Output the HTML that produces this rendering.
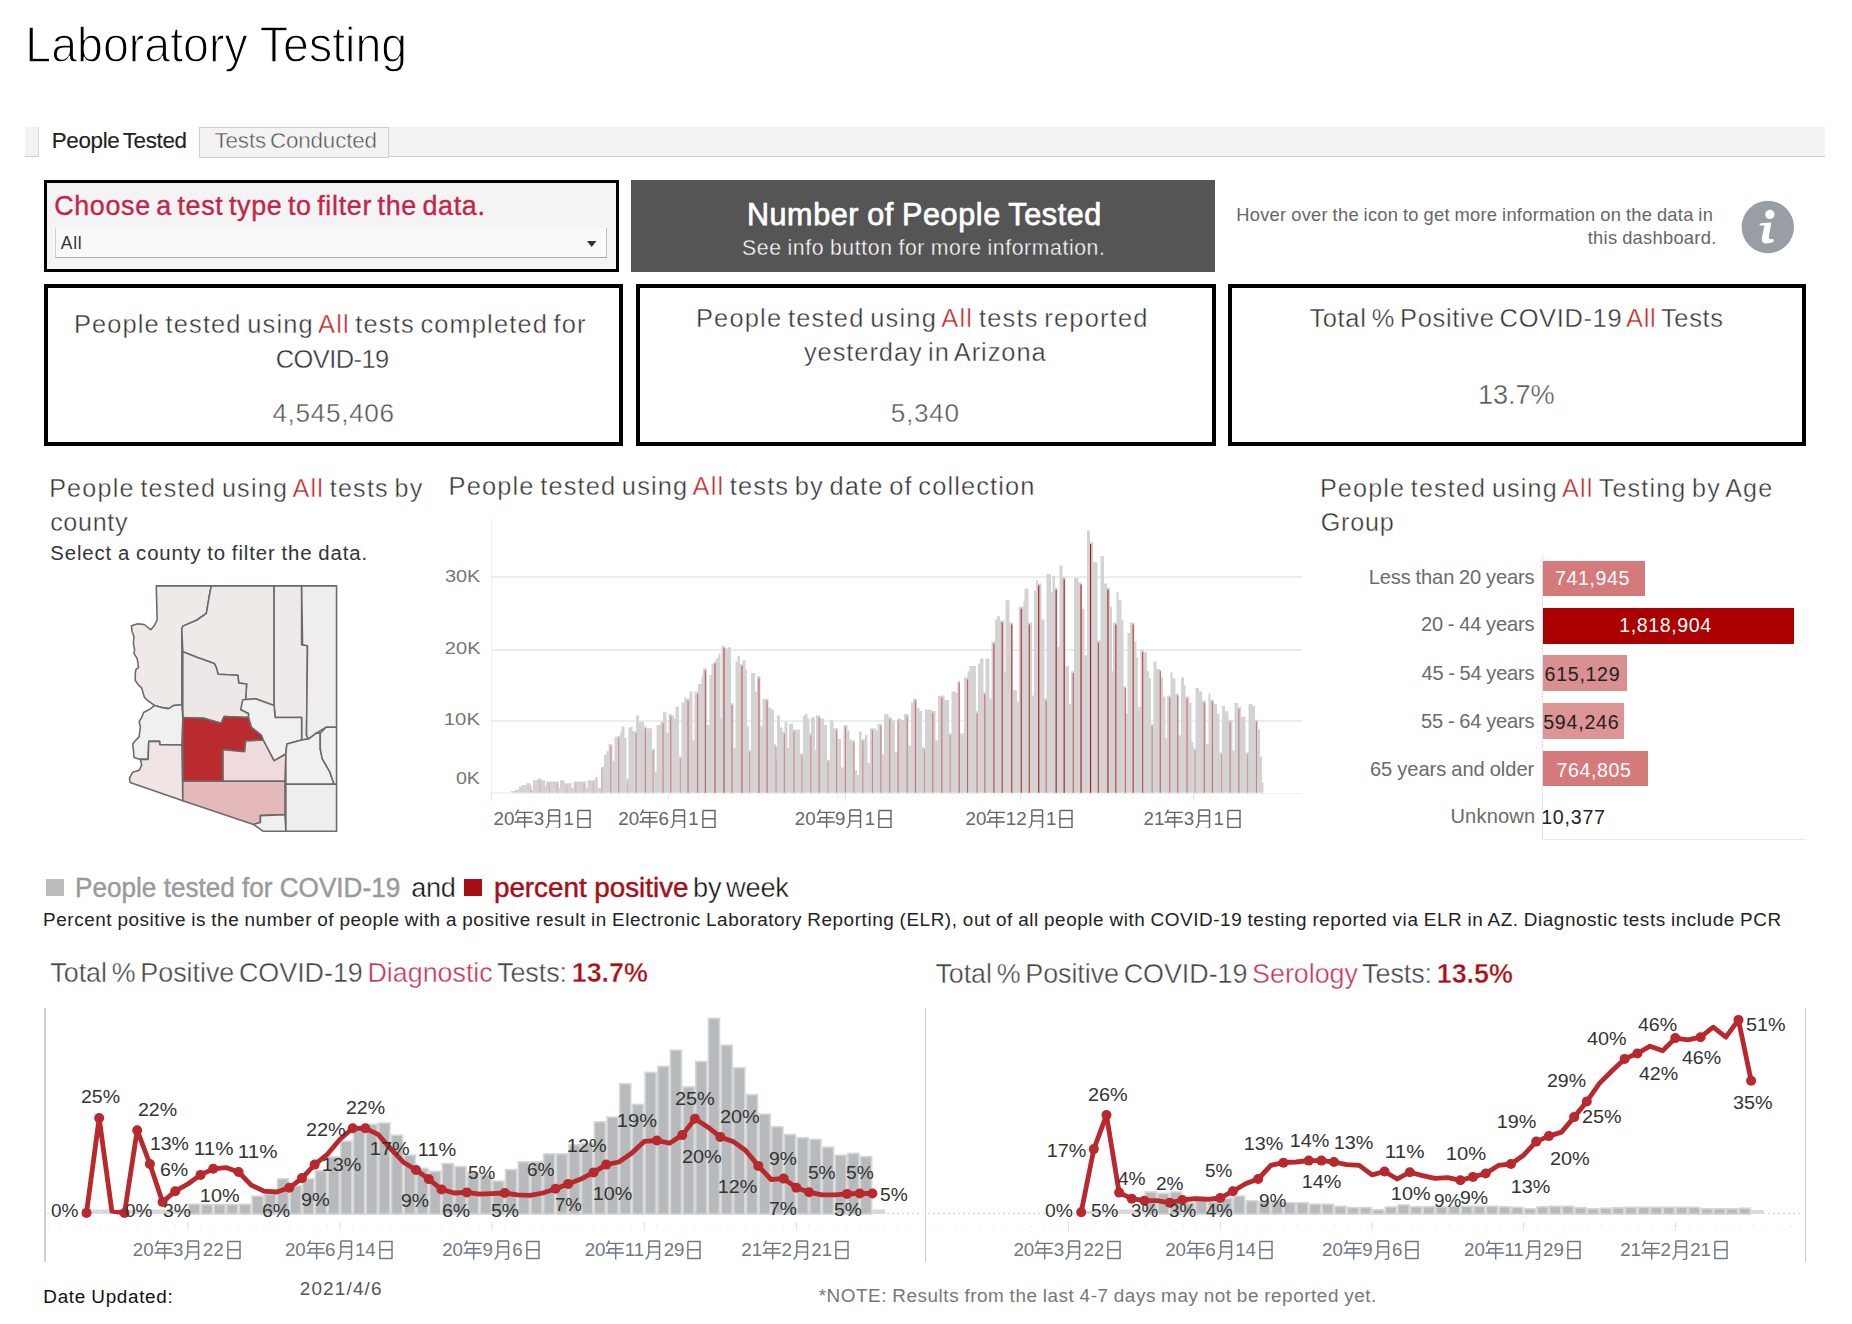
<!DOCTYPE html>
<html><head><meta charset="utf-8"><style>
html,body{margin:0;padding:0;background:#fff;}
body{width:1852px;height:1324px;position:relative;overflow:hidden;font-family:"Liberation Sans",sans-serif;}
.t{position:absolute;white-space:nowrap;line-height:1;}
.r{position:absolute;}
</style></head><body>
<div class="t" style="left:25.43px;top:20.13px;font-size:50.87px;color:#000;transform-origin:4.17px 0;transform:scaleX(0.9145);-webkit-text-stroke:1.3px #fff">Laboratory Testing</div>
<div class="r" style="left:25.00px;top:127.00px;width:1800.00px;height:29.00px;background:#f3f3f3;border-bottom:1px solid #cfcfcf"></div>
<div class="r" style="left:38.00px;top:127.00px;width:161.00px;height:30.00px;background:#fff;border-left:1px solid #d8d8d8"></div>
<div class="r" style="left:199.00px;top:127.00px;width:190.00px;height:29.00px;background:#f3f3f3;border:1px solid #cfcfcf;box-sizing:border-box;height:31px"></div>
<div class="t" style="left:51.76px;top:130.05px;font-size:22.38px;color:#222;letter-spacing:-0.326px;word-spacing:-2.24px;-webkit-text-stroke:0.15px #222">People Tested</div>
<div class="t" style="left:214.50px;top:130.05px;font-size:22.38px;color:#555;letter-spacing:-0.137px;word-spacing:-2.24px;-webkit-text-stroke:0.40px #fff">Tests Conducted</div>
<div class="r" style="left:44.00px;top:180.00px;width:575.00px;height:92.00px;border:3px solid #000;box-sizing:border-box;background:#f4f4f4"></div>
<div class="t" style="left:54.13px;top:193.23px;font-size:26.89px;color:#c1264a;letter-spacing:0.686px;word-spacing:-2.69px;-webkit-text-stroke:0.35px #c1264a">Choose a test type to filter the data.</div>
<div class="r" style="left:55.00px;top:228.00px;width:552.00px;height:30.00px;background:#f9f9f9;border-left:1px solid #d0d0d0;border-right:1px solid #bdbdbd;border-bottom:1px solid #a8a8a8;box-sizing:border-box"></div>
<div class="t" style="left:60.77px;top:234.93px;font-size:17.44px;color:#333;letter-spacing:0.754px">All</div>
<svg class="r" style="left:587px;top:241px" width="10" height="7"><path d="M0,0 H9.4 L4.7,6 Z" fill="#333"/></svg>
<div class="r" style="left:631.00px;top:180.00px;width:584.00px;height:92.00px;background:#555"></div>
<div class="t" style="left:746.90px;top:199.16px;font-size:30.52px;color:#fff;letter-spacing:0.608px;word-spacing:-0.92px;-webkit-text-stroke:0.75px #fff">Number of People Tested</div>
<div class="t" style="left:742.04px;top:236.63px;font-size:21.22px;color:#fff;letter-spacing:0.602px;word-spacing:-0.64px;-webkit-text-stroke:0.35px #555">See info button for more information.</div>
<div class="t" style="left:1236.30px;top:205.89px;font-size:18.31px;color:#666;letter-spacing:0.259px;word-spacing:-0.55px">Hover over the icon to get more information on the data in</div>
<div class="t" style="left:1587.72px;top:229.49px;font-size:18.31px;color:#666;letter-spacing:0.282px;word-spacing:-0.55px">this dashboard.</div>
<svg class="r" style="left:1741px;top:200px" width="53" height="54"><circle cx="26.8" cy="27" r="26.2" fill="#999ea5"/><circle cx="28.85" cy="14.4" r="4.6" fill="#fff"/><path d="M18.55,23.96 Q20,23.2 22.96,22.98 L30.33,22.49 L27.87,36.24 Q27.6,39.3 29.5,39.18 L32.29,38.9 L32.78,41.64 Q29,43.4 25.91,43.6 Q22,43.6 21.2,41.5 Q20.5,39.5 20.9,37.6 L23.45,25.44 L18.79,25.44 Z" fill="#fff"/></svg>
<div class="r" style="left:44.00px;top:284.00px;width:579.00px;height:162.00px;border:4px solid #000;box-sizing:border-box"></div>
<div class="r" style="left:636.00px;top:284.00px;width:580.00px;height:162.00px;border:4px solid #000;box-sizing:border-box"></div>
<div class="r" style="left:1228.00px;top:284.00px;width:578.00px;height:162.00px;border:4px solid #000;box-sizing:border-box"></div>
<div class="t" style="left:73.91px;top:311.96px;font-size:25.44px;color:#333;letter-spacing:1.131px;word-spacing:-2.54px;-webkit-text-stroke:0.40px #fff">People tested using <span style="color:#c1272d">All</span> tests completed for</div>
<div class="t" style="left:275.71px;top:347.26px;font-size:25.44px;color:#333;letter-spacing:-0.545px;-webkit-text-stroke:0.40px #fff">COVID-19</div>
<div class="t" style="left:272.40px;top:400.45px;font-size:26.16px;color:#555;letter-spacing:0.670px;-webkit-text-stroke:0.40px #fff">4,545,406</div>
<div class="t" style="left:695.91px;top:306.46px;font-size:25.44px;color:#333;letter-spacing:1.195px;word-spacing:-2.54px;-webkit-text-stroke:0.40px #fff">People tested using <span style="color:#c1272d">All</span> tests reported</div>
<div class="t" style="left:803.94px;top:340.46px;font-size:25.44px;color:#333;letter-spacing:0.933px;word-spacing:-2.54px;-webkit-text-stroke:0.40px #fff">yesterday in Arizona</div>
<div class="t" style="left:890.65px;top:399.75px;font-size:26.16px;color:#555;letter-spacing:0.723px;-webkit-text-stroke:0.40px #fff">5,340</div>
<div class="t" style="left:1309.43px;top:305.76px;font-size:25.44px;color:#333;letter-spacing:0.659px;word-spacing:-2.54px;-webkit-text-stroke:0.40px #fff">Total % Positive COVID-19 <span style="color:#c1272d">All</span> Tests</div>
<div class="t" style="left:1477.93px;top:380.99px;font-size:27.18px;color:#555;letter-spacing:-0.102px;-webkit-text-stroke:0.40px #fff">13.7%</div>
<div class="t" style="left:49.14px;top:475.71px;font-size:25.15px;color:#333;letter-spacing:1.218px;word-spacing:-2.51px;-webkit-text-stroke:0.40px #fff">People tested using <span style="color:#c1272d">All</span> tests by</div>
<div class="t" style="left:50.13px;top:510.31px;font-size:25.15px;color:#333;letter-spacing:0.660px;-webkit-text-stroke:0.40px #fff">county</div>
<div class="t" style="left:50.28px;top:543.47px;font-size:20.35px;color:#333;letter-spacing:0.877px;word-spacing:-0.61px">Select a county to filter the data.</div>
<svg class="r" style="left:120px;top:578px" width="225" height="260" viewBox="0 0 1146 1324"><path d="M185,40 L465,40 L455,90 L440,180 L390,215 L320,245 L315,260 L315,645 L274,649 L248,665 L208.6,658.8 L176,649 L143.2,626 L123.6,606.4 L110.5,560.6 L90.9,541 L77.8,521.4 L77.8,488.7 L81.1,465.8 L94.2,456 L87.6,410.2 L71.3,384 L74.5,364.4 L68,331.7 L71.3,299 L61.4,272.8 L58.2,243.3 L90.9,233.5 L123.6,236.8 L143.2,253.2 L156.3,263 L176,240.1 L189,213.9 Z" fill="#efe9e8" stroke="#6a6a6a" stroke-width="8" stroke-linejoin="round"/><path d="M465,40 L785,40 L785,650 L760,640 L690,615 L640,620 L645,540 L605,535 L600,495 L500,490 L490,455 L480,435 L395,405 L320,375 L315,260 L320,245 L390,215 L440,180 L455,90 Z" fill="#efe9e8" stroke="#6a6a6a" stroke-width="8" stroke-linejoin="round"/><path d="M785,40 L925,40 L925,340 L955,345 L950,800 L960,820 L925,825 L925,710 L790,710 L785,650 Z" fill="#efe9e9" stroke="#6a6a6a" stroke-width="8" stroke-linejoin="round"/><path d="M925,40 L1103,40 L1103,760 L1050,760 L1000,790 L960,820 L950,800 L955,345 L930,340 L925,40 Z" fill="#f0eded" stroke="#6a6a6a" stroke-width="8" stroke-linejoin="round"/><path d="M320,375 L395,405 L480,435 L490,455 L500,490 L600,495 L605,535 L645,540 L640,620 L615,670 L655,690 L655,710 L530,705 L515,740 L430,715 L320,710 Z" fill="#eee7e7" stroke="#6a6a6a" stroke-width="8" stroke-linejoin="round"/><path d="M176,649 L208.6,658.8 L248,665.3 L274,649 L315,645 L320,710 L315,850 L202.1,848.4 L202.1,832.1 L146.5,832.1 L143.2,923.7 L104,923.7 L71.3,913.9 L68,874.6 L64.7,845.2 L77.8,828.9 L97.4,809.2 L100.7,783.1 L104,756.9 L97.4,730.7 L110.5,711.1 L120.3,685 L156.3,665.3 Z" fill="#f1f0f0" stroke="#6a6a6a" stroke-width="8" stroke-linejoin="round"/><path d="M146.5,832.1 L202.1,832.1 L202.1,848.4 L315,850 L320,1135 L51.6,1041.5 L48.4,1018.6 L64.7,989.1 L97.4,979.3 L110.5,953.1 L104,923.7 L143.2,923.7 Z" fill="#f0e4e4" stroke="#6a6a6a" stroke-width="8" stroke-linejoin="round"/><path d="M320,710 L430,715 L515,740 L530,705 L655,710 L670,760 L720,800 L730,825 L640,830 L635,885 L525,875 L525,1035 L320,1035 Z" fill="#b92b2e" stroke="#6a6a6a" stroke-width="8" stroke-linejoin="round"/><path d="M525,875 L635,885 L640,830 L730,825 L785,930 L845,895 L840,1035 L525,1035 Z" fill="#efdbdb" stroke="#6a6a6a" stroke-width="8" stroke-linejoin="round"/><path d="M615,670 L625,620 L690,615 L760,640 L785,650 L790,710 L925,710 L925,825 L850,845 L845,895 L785,930 L730,825 L720,800 L670,760 L655,710 L655,690 Z" fill="#f1f0f0" stroke="#6a6a6a" stroke-width="8" stroke-linejoin="round"/><path d="M850,845 L925,825 L960,820 L1000,790 L1020,790 L1020,870 L1030,920 L1070,990 L1090,1050 L845,1050 L845,895 Z" fill="#f1f0f0" stroke="#6a6a6a" stroke-width="8" stroke-linejoin="round"/><path d="M1020,790 L1050,760 L1103,760 L1103,1050 L1090,1050 L1070,990 L1030,920 L1020,870 Z" fill="#f1f0f0" stroke="#6a6a6a" stroke-width="8" stroke-linejoin="round"/><path d="M320,1035 L840,1035 L840,1205 L715,1210 L715,1245 L680,1255 L320,1135 Z" fill="#e5b9ba" stroke="#6a6a6a" stroke-width="8" stroke-linejoin="round"/><path d="M680,1255 L715,1245 L715,1210 L840,1205 L845,1290 L730,1290 Z" fill="#f1f0f0" stroke="#6a6a6a" stroke-width="8" stroke-linejoin="round"/><path d="M845,1050 L1103,1050 L1103,1290 L845,1290 Z" fill="#f0eded" stroke="#6a6a6a" stroke-width="8" stroke-linejoin="round"/></svg>
<div class="t" style="left:448.61px;top:474.46px;font-size:25.44px;color:#333;letter-spacing:1.122px;word-spacing:-2.54px;-webkit-text-stroke:0.40px #fff">People tested using <span style="color:#c1272d">All</span> tests by date of collection</div>
<div class="r" style="left:491.00px;top:576.30px;width:811.00px;height:1.50px;background:#ececec"></div>
<div class="r" style="left:491.00px;top:649.10px;width:811.00px;height:1.50px;background:#ececec"></div>
<div class="r" style="left:491.00px;top:720.20px;width:811.00px;height:1.50px;background:#ececec"></div>
<div class="r" style="left:491.00px;top:518.00px;width:1.00px;height:283.00px;background:#efefef"></div>
<div class="r" style="left:491.00px;top:792.50px;width:811.00px;height:1.00px;background:#f0f0f0"></div>
<div class="r" style="left:491.10px;top:794.00px;width:1.00px;height:7.00px;background:#e4e4e4"></div>
<div class="r" style="left:668.10px;top:794.00px;width:1.00px;height:7.00px;background:#e4e4e4"></div>
<div class="r" style="left:844.50px;top:794.00px;width:1.00px;height:7.00px;background:#e4e4e4"></div>
<div class="r" style="left:1020.20px;top:794.00px;width:1.00px;height:7.00px;background:#e4e4e4"></div>
<div class="r" style="left:1192.90px;top:794.00px;width:1.00px;height:7.00px;background:#e4e4e4"></div>
<svg class="r" style="left:0;top:0" width="1852" height="1324"><path d="M491.0,792.8 L491.0,792.8 L491.0,792.8 L491.5,792.8 L491.5,792.5 L511.0,792.5 L511.0,791.1 L515.0,791.1 L515.0,789.8 L519.0,789.8 L519.0,786.2 L522.0,786.2 L522.0,785.0 L526.5,785.0 L526.5,783.2 L530.5,783.2 L530.5,789.8 L533.0,789.8 L533.0,780.2 L537.5,780.2 L537.5,778.4 L541.5,778.4 L541.5,780.2 L545.0,780.2 L545.0,786.2 L546.0,786.2 L546.0,781.4 L559.0,781.4 L559.0,788.0 L560.0,788.0 L560.0,780.2 L564.5,780.2 L564.5,783.2 L571.5,783.2 L571.5,788.0 L573.5,788.0 L573.5,781.4 L586.0,781.4 L586.0,788.0 L587.5,788.0 L587.5,780.2 L595.0,780.2 L595.0,777.2 L598.0,777.2 L598.0,788.0 L601.0,788.0 L601.0,766.9 L604.0,766.9 L604.0,754.8 L606.5,754.8 L606.5,751.2 L608.5,751.2 L608.5,743.9 L612.5,743.9 L612.5,760.8 L614.5,760.8 L614.5,736.7 L617.0,736.7 L617.0,736.1 L620.0,736.1 L620.0,732.4 L621.5,732.4 L621.5,726.4 L624.5,726.4 L624.5,737.9 L626.5,737.9 L626.5,779.0 L628.5,779.0 L628.5,727.6 L631.0,727.6 L631.0,726.4 L632.5,726.4 L632.5,731.2 L636.0,731.2 L636.0,715.5 L639.0,715.5 L639.0,722.2 L640.0,722.2 L640.0,721.8 L644.0,721.8 L644.0,726.3 L646.5,726.3 L646.5,728.2 L652.0,728.2 L652.0,748.8 L655.0,748.8 L655.0,771.9 L656.5,771.9 L656.5,725.0 L660.5,725.0 L660.5,721.4 L663.0,721.4 L663.0,712.2 L666.5,712.2 L666.5,732.7 L668.5,732.7 L668.5,714.1 L671.5,714.1 L671.5,715.4 L674.0,715.4 L674.0,718.6 L675.5,718.6 L675.5,706.4 L679.0,706.4 L679.0,756.5 L681.5,756.5 L681.5,702.6 L684.5,702.6 L684.5,696.8 L686.0,696.8 L686.0,698.7 L689.5,698.7 L689.5,691.6 L692.5,691.6 L692.5,740.4 L694.5,740.4 L694.5,691.6 L698.0,691.6 L698.0,683.9 L701.5,683.9 L701.5,675.6 L703.0,675.6 L703.0,668.5 L707.0,668.5 L707.0,725.0 L709.5,725.0 L709.5,674.9 L711.5,674.9 L711.5,663.4 L714.0,663.4 L714.0,661.5 L716.0,661.5 L716.0,658.3 L718.5,658.3 L718.5,653.8 L720.5,653.8 L720.5,718.6 L721.5,718.6 L721.5,646.1 L725.5,646.1 L725.5,648.6 L728.0,648.6 L728.0,647.3 L731.0,647.3 L731.0,703.2 L733.5,703.2 L733.5,748.1 L735.5,748.1 L735.5,661.5 L737.5,661.5 L737.5,655.7 L740.0,655.7 L740.0,664.0 L742.5,664.0 L742.5,660.2 L745.5,660.2 L745.5,669.8 L747.0,669.8 L747.0,726.3 L749.0,726.3 L749.0,750.1 L751.0,750.1 L751.0,673.0 L755.0,673.0 L755.0,691.6 L757.0,691.6 L757.0,676.2 L760.5,676.2 L760.5,726.3 L762.5,726.3 L762.5,698.7 L768.5,698.7 L768.5,707.7 L771.0,707.7 L771.0,709.6 L774.0,709.6 L774.0,744.3 L776.0,744.3 L776.0,759.7 L777.0,759.7 L777.0,715.4 L780.0,715.4 L780.0,727.6 L782.5,727.6 L782.5,732.1 L784.5,732.1 L784.5,721.8 L787.5,721.8 L787.5,748.1 L789.0,748.1 L789.0,723.7 L793.0,723.7 L793.0,729.5 L800.0,729.5 L800.0,753.3 L803.0,753.3 L803.0,715.4 L805.0,715.4 L805.0,714.1 L807.5,714.1 L807.5,718.6 L809.5,718.6 L809.5,733.4 L811.0,733.4 L811.0,717.3 L815.0,717.3 L815.0,750.1 L816.0,750.1 L816.0,715.4 L820.5,715.4 L820.5,718.6 L824.0,718.6 L824.0,725.0 L827.0,725.0 L827.0,759.7 L830.0,759.7 L830.0,720.5 L833.5,720.5 L833.5,728.2 L838.0,728.2 L838.0,739.1 L841.0,739.1 L841.0,767.4 L843.5,767.4 L843.5,725.0 L847.5,725.0 L847.5,730.2 L849.5,730.2 L849.5,739.8 L852.0,739.8 L852.0,740.4 L855.0,740.4 L855.0,770.6 L857.0,770.6 L857.0,775.1 L859.0,775.1 L859.0,731.4 L861.5,731.4 L861.5,739.1 L865.0,739.1 L865.0,734.7 L867.5,734.7 L867.5,762.9 L870.0,762.9 L870.0,728.2 L876.0,728.2 L876.0,730.8 L877.5,730.8 L877.5,723.7 L882.0,723.7 L882.0,754.6 L884.0,754.6 L884.0,714.1 L888.5,714.1 L888.5,717.3 L892.0,717.3 L892.0,720.5 L895.0,720.5 L895.0,752.0 L897.5,752.0 L897.5,718.6 L901.5,718.6 L901.5,719.9 L904.0,719.9 L904.0,714.1 L908.5,714.1 L908.5,745.6 L911.0,745.6 L911.0,702.6 L913.0,702.6 L913.0,698.7 L917.0,698.7 L917.0,707.7 L919.5,707.7 L919.5,710.9 L922.0,710.9 L922.0,746.9 L924.0,746.9 L924.0,755.8 L925.0,755.8 L925.0,709.6 L931.5,709.6 L931.5,710.9 L935.5,710.9 L935.5,740.4 L938.0,740.4 L938.0,696.1 L940.5,696.1 L940.5,695.5 L944.5,695.5 L944.5,700.0 L949.0,700.0 L949.0,733.4 L951.5,733.4 L951.5,691.6 L956.0,691.6 L956.0,692.9 L957.5,692.9 L957.5,680.7 L960.0,680.7 L960.0,733.5 L964.0,733.5 L964.0,677.5 L967.5,677.5 L967.5,671.2 L969.5,671.2 L969.5,665.9 L976.0,665.9 L976.0,711.3 L978.0,711.3 L978.0,663.8 L980.0,663.8 L980.0,658.5 L983.5,658.5 L983.5,692.3 L985.5,692.3 L985.5,658.5 L989.5,658.5 L989.5,698.6 L991.5,698.6 L991.5,641.6 L995.0,641.6 L995.0,619.4 L997.0,619.4 L997.0,616.2 L1000.0,616.2 L1000.0,620.4 L1004.5,620.4 L1004.5,672.2 L1005.5,672.2 L1005.5,600.3 L1009.5,600.3 L1009.5,622.5 L1013.0,622.5 L1013.0,690.2 L1017.0,690.2 L1017.0,701.8 L1019.0,701.8 L1019.0,606.7 L1023.5,606.7 L1023.5,601.4 L1024.5,601.4 L1024.5,588.7 L1028.5,588.7 L1028.5,622.5 L1032.0,622.5 L1032.0,695.5 L1034.0,695.5 L1034.0,590.8 L1036.0,590.8 L1036.0,580.3 L1038.0,580.3 L1038.0,583.4 L1041.5,583.4 L1041.5,619.4 L1044.5,619.4 L1044.5,698.6 L1046.5,698.6 L1046.5,573.9 L1051.0,573.9 L1051.0,591.9 L1052.5,591.9 L1052.5,576.0 L1055.0,576.0 L1055.0,587.7 L1057.5,587.7 L1057.5,646.8 L1059.5,646.8 L1059.5,565.5 L1062.5,565.5 L1062.5,577.1 L1065.5,577.1 L1065.5,665.9 L1069.0,665.9 L1069.0,703.9 L1071.0,703.9 L1071.0,671.2 L1074.0,671.2 L1074.0,578.1 L1078.5,578.1 L1078.5,582.4 L1081.5,582.4 L1081.5,608.8 L1084.5,608.8 L1084.5,655.3 L1087.0,655.3 L1087.0,530.6 L1090.0,530.6 L1090.0,542.2 L1093.0,542.2 L1093.0,562.3 L1097.5,562.3 L1097.5,640.5 L1100.5,640.5 L1100.5,555.9 L1104.0,555.9 L1104.0,583.4 L1107.0,583.4 L1107.0,587.7 L1110.0,587.7 L1110.0,606.7 L1112.0,606.7 L1112.0,671.2 L1113.0,671.2 L1113.0,622.5 L1116.5,622.5 L1116.5,591.9 L1118.5,591.9 L1118.5,600.3 L1121.5,600.3 L1121.5,620.4 L1123.5,620.4 L1123.5,686.0 L1126.0,686.0 L1126.0,713.4 L1127.5,713.4 L1127.5,633.1 L1130.0,633.1 L1130.0,622.5 L1134.5,622.5 L1134.5,641.6 L1136.5,641.6 L1136.5,657.4 L1138.0,657.4 L1138.0,707.1 L1140.5,707.1 L1140.5,650.0 L1144.0,650.0 L1144.0,652.1 L1147.0,652.1 L1147.0,671.2 L1149.0,671.2 L1149.0,678.6 L1151.0,678.6 L1151.0,724.0 L1153.5,724.0 L1153.5,661.6 L1156.5,661.6 L1156.5,669.0 L1160.5,669.0 L1160.5,677.5 L1163.0,677.5 L1163.0,696.5 L1165.5,696.5 L1165.5,737.8 L1167.0,737.8 L1167.0,695.5 L1170.5,695.5 L1170.5,672.2 L1172.5,672.2 L1172.5,678.6 L1175.5,678.6 L1175.5,693.4 L1178.5,693.4 L1178.5,735.6 L1181.0,735.6 L1181.0,677.5 L1184.0,677.5 L1184.0,684.9 L1185.5,684.9 L1185.5,696.5 L1189.5,696.5 L1189.5,702.9 L1191.5,702.9 L1191.5,742.0 L1193.5,742.0 L1193.5,748.3 L1195.5,748.3 L1195.5,688.1 L1199.0,688.1 L1199.0,691.2 L1202.0,691.2 L1202.0,700.8 L1206.0,700.8 L1206.0,744.1 L1208.5,744.1 L1208.5,693.4 L1210.5,693.4 L1210.5,699.7 L1214.0,699.7 L1214.0,703.9 L1217.0,703.9 L1217.0,713.4 L1219.5,713.4 L1219.5,752.6 L1222.0,752.6 L1222.0,706.0 L1225.0,706.0 L1225.0,711.3 L1228.5,711.3 L1228.5,719.8 L1232.5,719.8 L1232.5,750.4 L1234.5,750.4 L1234.5,702.9 L1238.0,702.9 L1238.0,707.1 L1241.0,707.1 L1241.0,716.6 L1245.5,716.6 L1245.5,752.6 L1248.5,752.6 L1248.5,703.9 L1252.5,703.9 L1252.5,706.0 L1255.0,706.0 L1255.0,719.8 L1258.0,719.8 L1258.0,729.3 L1260.0,729.3 L1260.0,756.8 L1262.0,756.8 L1262.0,782.2 L1263.5,782.2 L1263.5,792.8 L1266.0,792.8 L1266.0,792.8 Z" fill="#d3d3d3"/><rect x="530.30" y="785.2" width="1.1" height="7.6" fill="rgb(229,172,173)"/><rect x="539.30" y="780.4" width="1.1" height="12.4" fill="rgb(228,169,169)"/><rect x="548.60" y="783.4" width="1.1" height="9.4" fill="rgb(228,171,171)"/><rect x="556.50" y="783.4" width="1.1" height="9.4" fill="rgb(228,171,171)"/><rect x="566.10" y="785.2" width="1.1" height="7.6" fill="rgb(229,172,173)"/><rect x="575.20" y="783.4" width="1.1" height="9.4" fill="rgb(228,171,171)"/><rect x="583.40" y="783.4" width="1.1" height="9.4" fill="rgb(228,171,171)"/><rect x="592.70" y="782.2" width="1.1" height="10.6" fill="rgb(228,170,171)"/><rect x="601.40" y="768.9" width="1.1" height="23.9" fill="rgb(224,160,161)"/><rect x="610.20" y="745.9" width="1.1" height="46.9" fill="rgb(218,143,145)"/><rect x="618.10" y="738.1" width="1.1" height="54.7" fill="rgb(216,137,139)"/><rect x="627.00" y="781.0" width="1.1" height="11.8" fill="rgb(228,169,170)"/><rect x="635.60" y="733.2" width="1.1" height="59.6" fill="rgb(215,134,136)"/><rect x="644.80" y="728.3" width="1.1" height="64.5" fill="rgb(213,130,132)"/><rect x="652.60" y="750.8" width="1.1" height="42.0" fill="rgb(219,147,148)"/><rect x="662.50" y="723.4" width="1.1" height="69.4" fill="rgb(212,126,129)"/><rect x="670.20" y="716.1" width="1.1" height="76.7" fill="rgb(210,121,124)"/><rect x="679.80" y="758.5" width="1.1" height="34.3" fill="rgb(222,152,154)"/><rect x="687.50" y="700.7" width="1.1" height="92.1" fill="rgb(206,109,113)"/><rect x="697.10" y="693.6" width="1.1" height="99.2" fill="rgb(204,104,108)"/><rect x="704.80" y="670.5" width="1.1" height="122.3" fill="rgb(198,87,91)"/><rect x="714.50" y="663.5" width="1.1" height="129.3" fill="rgb(196,82,86)"/><rect x="723.50" y="648.1" width="1.1" height="144.7" fill="rgb(191,70,75)"/><rect x="731.40" y="705.2" width="1.1" height="87.6" fill="rgb(207,113,116)"/><rect x="741.40" y="666.0" width="1.1" height="126.8" fill="rgb(196,84,88)"/><rect x="749.10" y="752.1" width="1.1" height="40.7" fill="rgb(220,148,149)"/><rect x="758.40" y="678.2" width="1.1" height="114.6" fill="rgb(200,93,97)"/><rect x="766.50" y="700.7" width="1.1" height="92.1" fill="rgb(206,109,113)"/><rect x="775.50" y="746.3" width="1.1" height="46.5" fill="rgb(218,143,145)"/><rect x="783.80" y="734.1" width="1.1" height="58.7" fill="rgb(215,134,136)"/><rect x="793.40" y="731.5" width="1.1" height="61.3" fill="rgb(214,132,135)"/><rect x="801.30" y="755.3" width="1.1" height="37.5" fill="rgb(221,150,151)"/><rect x="810.30" y="735.4" width="1.1" height="57.4" fill="rgb(215,135,137)"/><rect x="818.60" y="717.4" width="1.1" height="75.4" fill="rgb(210,122,125)"/><rect x="827.60" y="761.7" width="1.1" height="31.1" fill="rgb(222,155,156)"/><rect x="836.00" y="730.2" width="1.1" height="62.6" fill="rgb(214,131,134)"/><rect x="844.90" y="727.0" width="1.1" height="65.8" fill="rgb(213,129,131)"/><rect x="853.30" y="742.4" width="1.1" height="50.4" fill="rgb(217,140,142)"/><rect x="862.30" y="741.1" width="1.1" height="51.7" fill="rgb(217,140,141)"/><rect x="871.90" y="730.2" width="1.1" height="62.6" fill="rgb(214,131,134)"/><rect x="880.30" y="725.7" width="1.1" height="67.1" fill="rgb(213,128,131)"/><rect x="889.20" y="719.3" width="1.1" height="73.5" fill="rgb(211,123,126)"/><rect x="897.60" y="720.6" width="1.1" height="72.2" fill="rgb(211,124,127)"/><rect x="906.60" y="716.1" width="1.1" height="76.7" fill="rgb(210,121,124)"/><rect x="914.90" y="700.7" width="1.1" height="92.1" fill="rgb(206,109,113)"/><rect x="923.90" y="748.9" width="1.1" height="43.9" fill="rgb(219,145,147)"/><rect x="932.30" y="712.9" width="1.1" height="79.9" fill="rgb(209,118,121)"/><rect x="941.30" y="697.5" width="1.1" height="95.3" fill="rgb(205,107,110)"/><rect x="949.60" y="735.4" width="1.1" height="57.4" fill="rgb(215,135,137)"/><rect x="958.60" y="682.7" width="1.1" height="110.1" fill="rgb(201,96,100)"/><rect x="967.00" y="679.5" width="1.1" height="113.3" fill="rgb(200,94,98)"/><rect x="976.50" y="713.3" width="1.1" height="79.5" fill="rgb(209,119,122)"/><rect x="984.30" y="694.3" width="1.1" height="98.5" fill="rgb(204,105,108)"/><rect x="993.40" y="643.6" width="1.1" height="149.2" fill="rgb(190,67,72)"/><rect x="1001.60" y="622.4" width="1.1" height="170.4" fill="rgb(184,51,57)"/><rect x="1011.20" y="624.5" width="1.1" height="168.3" fill="rgb(185,53,59)"/><rect x="1020.70" y="608.7" width="1.1" height="184.1" fill="rgb(181,41,48)"/><rect x="1028.70" y="624.5" width="1.1" height="168.3" fill="rgb(185,53,59)"/><rect x="1038.20" y="585.4" width="1.1" height="207.4" fill="rgb(174,23,31)"/><rect x="1045.60" y="700.6" width="1.1" height="92.2" fill="rgb(206,109,113)"/><rect x="1055.60" y="589.7" width="1.1" height="203.1" fill="rgb(176,27,34)"/><rect x="1063.60" y="579.1" width="1.1" height="213.7" fill="rgb(173,19,27)"/><rect x="1072.70" y="673.2" width="1.1" height="119.6" fill="rgb(198,89,93)"/><rect x="1080.50" y="584.4" width="1.1" height="208.4" fill="rgb(174,23,30)"/><rect x="1090.00" y="544.2" width="1.1" height="248.6" fill="rgb(172,16,24)"/><rect x="1097.80" y="642.5" width="1.1" height="150.3" fill="rgb(190,66,72)"/><rect x="1107.40" y="589.7" width="1.1" height="203.1" fill="rgb(176,27,34)"/><rect x="1115.30" y="624.5" width="1.1" height="168.3" fill="rgb(185,53,59)"/><rect x="1124.80" y="688.0" width="1.1" height="104.8" fill="rgb(202,100,104)"/><rect x="1132.60" y="624.5" width="1.1" height="168.3" fill="rgb(185,53,59)"/><rect x="1142.10" y="652.0" width="1.1" height="140.8" fill="rgb(193,73,78)"/><rect x="1151.60" y="726.0" width="1.1" height="66.8" fill="rgb(213,128,131)"/><rect x="1159.70" y="671.0" width="1.1" height="121.8" fill="rgb(198,87,92)"/><rect x="1169.20" y="697.5" width="1.1" height="95.3" fill="rgb(205,107,110)"/><rect x="1177.20" y="695.4" width="1.1" height="97.4" fill="rgb(204,105,109)"/><rect x="1186.50" y="698.5" width="1.1" height="94.3" fill="rgb(205,108,111)"/><rect x="1194.60" y="750.3" width="1.1" height="42.5" fill="rgb(219,146,148)"/><rect x="1203.70" y="702.8" width="1.1" height="90.0" fill="rgb(206,111,114)"/><rect x="1211.90" y="701.7" width="1.1" height="91.1" fill="rgb(206,110,113)"/><rect x="1221.00" y="754.6" width="1.1" height="38.2" fill="rgb(221,150,151)"/><rect x="1229.50" y="721.8" width="1.1" height="71.0" fill="rgb(212,125,128)"/><rect x="1238.30" y="709.1" width="1.1" height="83.7" fill="rgb(208,116,119)"/><rect x="1247.00" y="754.6" width="1.1" height="38.2" fill="rgb(221,150,151)"/><rect x="1255.90" y="721.8" width="1.1" height="71.0" fill="rgb(212,125,128)"/></svg>
<div class="t" style="left:444.85px;top:567.78px;font-size:17.15px;color:#777;transform-origin:0.65px 0;transform:scaleX(1.1633)">30K</div>
<div class="t" style="left:444.64px;top:640.08px;font-size:17.15px;color:#777;transform-origin:0.86px 0;transform:scaleX(1.1716)">20K</div>
<div class="t" style="left:444.19px;top:711.18px;font-size:17.15px;color:#777;transform-origin:1.31px 0;transform:scaleX(1.1895)">10K</div>
<div class="t" style="left:456.33px;top:769.78px;font-size:17.15px;color:#777;transform-origin:0.67px 0;transform:scaleX(1.1438)">0K</div>
<div class="t" style="left:493.50px;top:809.67px;font-size:18.70px;color:#666">20</div><svg class="r" style="left:514.30px;top:808.90px" width="19.40" height="19.40" viewBox="0 0 20 20"><path d="M4.5,0.5 L1.5,6.5 M3.5,3.5 H19.5 M4,9 H18 M4,9 V13.5 M0.5,13.5 H19.5 M11,3.5 V20" stroke="#666" stroke-width="1.5" fill="none"/></svg><div class="t" style="left:533.70px;top:809.67px;font-size:18.70px;color:#666">3</div><svg class="r" style="left:544.10px;top:808.90px" width="19.40" height="19.40" viewBox="0 0 20 20"><path d="M5,1 V12 Q5,17.5 1.5,20 M5,1 H16 M16,1 V18.5 Q16,20 14,20 H12 M5,7 H16 M5,12.5 H16" stroke="#666" stroke-width="1.5" fill="none"/></svg><div class="t" style="left:563.50px;top:809.67px;font-size:18.70px;color:#666">1</div><svg class="r" style="left:573.90px;top:808.90px" width="19.40" height="19.40" viewBox="0 0 20 20"><path d="M4,1.5 H16.5 V19.5 M4,1.5 V19.5 M4,19 H16.5 M4,10 H16.5" stroke="#666" stroke-width="1.5" fill="none"/></svg>
<div class="t" style="left:618.30px;top:809.67px;font-size:18.70px;color:#666">20</div><svg class="r" style="left:639.10px;top:808.90px" width="19.40" height="19.40" viewBox="0 0 20 20"><path d="M4.5,0.5 L1.5,6.5 M3.5,3.5 H19.5 M4,9 H18 M4,9 V13.5 M0.5,13.5 H19.5 M11,3.5 V20" stroke="#666" stroke-width="1.5" fill="none"/></svg><div class="t" style="left:658.50px;top:809.67px;font-size:18.70px;color:#666">6</div><svg class="r" style="left:668.90px;top:808.90px" width="19.40" height="19.40" viewBox="0 0 20 20"><path d="M5,1 V12 Q5,17.5 1.5,20 M5,1 H16 M16,1 V18.5 Q16,20 14,20 H12 M5,7 H16 M5,12.5 H16" stroke="#666" stroke-width="1.5" fill="none"/></svg><div class="t" style="left:688.30px;top:809.67px;font-size:18.70px;color:#666">1</div><svg class="r" style="left:698.70px;top:808.90px" width="19.40" height="19.40" viewBox="0 0 20 20"><path d="M4,1.5 H16.5 V19.5 M4,1.5 V19.5 M4,19 H16.5 M4,10 H16.5" stroke="#666" stroke-width="1.5" fill="none"/></svg>
<div class="t" style="left:794.80px;top:809.67px;font-size:18.70px;color:#666">20</div><svg class="r" style="left:815.60px;top:808.90px" width="19.40" height="19.40" viewBox="0 0 20 20"><path d="M4.5,0.5 L1.5,6.5 M3.5,3.5 H19.5 M4,9 H18 M4,9 V13.5 M0.5,13.5 H19.5 M11,3.5 V20" stroke="#666" stroke-width="1.5" fill="none"/></svg><div class="t" style="left:835.00px;top:809.67px;font-size:18.70px;color:#666">9</div><svg class="r" style="left:845.40px;top:808.90px" width="19.40" height="19.40" viewBox="0 0 20 20"><path d="M5,1 V12 Q5,17.5 1.5,20 M5,1 H16 M16,1 V18.5 Q16,20 14,20 H12 M5,7 H16 M5,12.5 H16" stroke="#666" stroke-width="1.5" fill="none"/></svg><div class="t" style="left:864.80px;top:809.67px;font-size:18.70px;color:#666">1</div><svg class="r" style="left:875.20px;top:808.90px" width="19.40" height="19.40" viewBox="0 0 20 20"><path d="M4,1.5 H16.5 V19.5 M4,1.5 V19.5 M4,19 H16.5 M4,10 H16.5" stroke="#666" stroke-width="1.5" fill="none"/></svg>
<div class="t" style="left:965.60px;top:809.67px;font-size:18.70px;color:#666">20</div><svg class="r" style="left:986.40px;top:808.90px" width="19.40" height="19.40" viewBox="0 0 20 20"><path d="M4.5,0.5 L1.5,6.5 M3.5,3.5 H19.5 M4,9 H18 M4,9 V13.5 M0.5,13.5 H19.5 M11,3.5 V20" stroke="#666" stroke-width="1.5" fill="none"/></svg><div class="t" style="left:1005.80px;top:809.67px;font-size:18.70px;color:#666">12</div><svg class="r" style="left:1026.60px;top:808.90px" width="19.40" height="19.40" viewBox="0 0 20 20"><path d="M5,1 V12 Q5,17.5 1.5,20 M5,1 H16 M16,1 V18.5 Q16,20 14,20 H12 M5,7 H16 M5,12.5 H16" stroke="#666" stroke-width="1.5" fill="none"/></svg><div class="t" style="left:1046.00px;top:809.67px;font-size:18.70px;color:#666">1</div><svg class="r" style="left:1056.40px;top:808.90px" width="19.40" height="19.40" viewBox="0 0 20 20"><path d="M4,1.5 H16.5 V19.5 M4,1.5 V19.5 M4,19 H16.5 M4,10 H16.5" stroke="#666" stroke-width="1.5" fill="none"/></svg>
<div class="t" style="left:1143.50px;top:809.67px;font-size:18.70px;color:#666">21</div><svg class="r" style="left:1164.30px;top:808.90px" width="19.40" height="19.40" viewBox="0 0 20 20"><path d="M4.5,0.5 L1.5,6.5 M3.5,3.5 H19.5 M4,9 H18 M4,9 V13.5 M0.5,13.5 H19.5 M11,3.5 V20" stroke="#666" stroke-width="1.5" fill="none"/></svg><div class="t" style="left:1183.70px;top:809.67px;font-size:18.70px;color:#666">3</div><svg class="r" style="left:1194.10px;top:808.90px" width="19.40" height="19.40" viewBox="0 0 20 20"><path d="M5,1 V12 Q5,17.5 1.5,20 M5,1 H16 M16,1 V18.5 Q16,20 14,20 H12 M5,7 H16 M5,12.5 H16" stroke="#666" stroke-width="1.5" fill="none"/></svg><div class="t" style="left:1213.50px;top:809.67px;font-size:18.70px;color:#666">1</div><svg class="r" style="left:1223.90px;top:808.90px" width="19.40" height="19.40" viewBox="0 0 20 20"><path d="M4,1.5 H16.5 V19.5 M4,1.5 V19.5 M4,19 H16.5 M4,10 H16.5" stroke="#666" stroke-width="1.5" fill="none"/></svg>
<div class="t" style="left:1319.94px;top:475.71px;font-size:25.15px;color:#333;letter-spacing:1.160px;word-spacing:-2.51px;-webkit-text-stroke:0.40px #fff">People tested using <span style="color:#c1272d">All</span> Testing by Age</div>
<div class="t" style="left:1320.74px;top:510.31px;font-size:25.15px;color:#333;letter-spacing:0.805px;-webkit-text-stroke:0.40px #fff">Group</div>
<div class="r" style="left:1542.20px;top:556.00px;width:1.00px;height:283.00px;border-left:1px dotted #d0d0d0;box-sizing:border-box"></div>
<div class="r" style="left:1542.00px;top:838.80px;width:264.00px;height:1.00px;background:#eaeaea"></div>
<div class="t" style="left:1368.75px;top:567.32px;font-size:20.06px;color:#6a6a6a;letter-spacing:-0.100px;word-spacing:-0.60px">Less than 20 years</div>
<div class="r" style="left:1542.70px;top:560.70px;width:102.20px;height:35.70px;background:#d47a7b"></div>
<div class="t" style="left:1554.99px;top:569.39px;font-size:19.62px;color:#fff;letter-spacing:0.605px">741,945</div>
<div class="t" style="left:1420.89px;top:614.42px;font-size:20.06px;color:#6a6a6a;letter-spacing:-0.122px;word-spacing:-0.60px">20 - 44 years</div>
<div class="r" style="left:1542.70px;top:608.20px;width:251.30px;height:35.80px;background:#ab0000"></div>
<div class="t" style="left:1619.21px;top:616.49px;font-size:19.62px;color:#fff;letter-spacing:0.601px">1,818,904</div>
<div class="t" style="left:1421.44px;top:663.32px;font-size:20.06px;color:#6a6a6a;letter-spacing:-0.168px;word-spacing:-0.60px">45 - 54 years</div>
<div class="r" style="left:1542.70px;top:655.30px;width:84.50px;height:36.20px;background:#da8f90"></div>
<div class="t" style="left:1544.60px;top:665.39px;font-size:19.62px;color:#222;letter-spacing:0.688px">615,129</div>
<div class="t" style="left:1421.10px;top:711.02px;font-size:20.06px;color:#6a6a6a;letter-spacing:-0.139px;word-spacing:-0.60px">55 - 64 years</div>
<div class="r" style="left:1542.70px;top:703.00px;width:81.60px;height:36.00px;background:#dc9495"></div>
<div class="t" style="left:1543.21px;top:713.09px;font-size:19.62px;color:#222;letter-spacing:0.758px">594,246</div>
<div class="t" style="left:1369.98px;top:758.82px;font-size:20.06px;color:#6a6a6a;word-spacing:-0.60px">65 years and older</div>
<div class="r" style="left:1542.70px;top:750.70px;width:105.40px;height:35.70px;background:#d47a7b"></div>
<div class="t" style="left:1556.39px;top:760.89px;font-size:19.62px;color:#fff;letter-spacing:0.622px">764,805</div>
<div class="t" style="left:1450.45px;top:805.92px;font-size:20.06px;color:#6a6a6a;letter-spacing:0.197px">Unknown</div>
<div class="t" style="left:1541.21px;top:807.99px;font-size:19.62px;color:#222;letter-spacing:0.758px">10,377</div>
<div class="r" style="left:46.00px;top:879.40px;width:17.50px;height:17.00px;background:#bbbbbb"></div>
<div class="t" style="left:75.37px;top:874.39px;font-size:27.18px;color:#9a9a9a;transform-origin:2.23px 0;transform:scaleX(0.9609);-webkit-text-stroke:0.45px #9a9a9a">People tested for COVID-19</div>
<div class="t" style="left:411.25px;top:874.39px;font-size:27.18px;color:#111;letter-spacing:-0.319px;-webkit-text-stroke:0.40px #fff">and</div>
<div class="r" style="left:464.00px;top:879.40px;width:18.00px;height:17.00px;background:#a50f15"></div>
<div class="t" style="left:493.75px;top:874.39px;font-size:27.18px;color:#a50f15;transform-origin:1.75px 0;transform:scaleX(1.0221);-webkit-text-stroke:0.45px #a50f15">percent positive</div>
<div class="t" style="left:692.95px;top:874.39px;font-size:27.18px;color:#111;letter-spacing:-0.160px;word-spacing:-2.72px;-webkit-text-stroke:0.40px #fff">by week</div>
<div class="t" style="left:43.05px;top:911.00px;font-size:18.90px;color:#222;letter-spacing:0.571px;word-spacing:-0.57px">Percent positive is the number of people with a positive result in Electronic Laboratory Reporting (ELR), out of all people with COVID-19 testing reported via ELR in AZ. Diagnostic tests include PCR</div>
<div class="t" style="left:50.30px;top:960.23px;font-size:26.89px;color:#444;letter-spacing:-0.025px;word-spacing:-2.69px;-webkit-text-stroke:0.40px #fff">Total % Positive COVID-19 <span style="color:#c5345b">Diagnostic</span> Tests: <b style="color:#a50f15">13.7%</b></div>
<div class="t" style="left:935.40px;top:960.63px;font-size:26.89px;color:#444;letter-spacing:-0.043px;word-spacing:-2.69px;-webkit-text-stroke:0.40px #fff">Total % Positive COVID-19 <span style="color:#c5345b">Serology</span> Tests: <b style="color:#a50f15">13.5%</b></div>
<div class="r" style="left:44.40px;top:1007.50px;width:1.30px;height:254.00px;background:#cfcfcf"></div>
<div class="r" style="left:925.00px;top:1008.00px;width:1.30px;height:254.00px;background:#cfcfcf"></div>
<div class="r" style="left:1804.70px;top:1008.00px;width:1.30px;height:254.00px;background:#cfcfcf"></div>
<svg class="r" style="left:0;top:0" width="1852" height="1324"><line x1="47.0" y1="1213.3" x2="923.0" y2="1213.3" stroke="#c8c8c8" stroke-width="1" stroke-dasharray="2,3"/><line x1="47.8" y1="1226.5" x2="920.0" y2="1226.5" stroke="#e3e3e3" stroke-width="1.2" stroke-dasharray="1.5,11.17" stroke-dashoffset="0"/><rect x="187.41" y="1222" width="1" height="9" fill="#e0e0e0"/><rect x="339.52" y="1222" width="1" height="9" fill="#e0e0e0"/><rect x="491.63" y="1222" width="1" height="9" fill="#e0e0e0"/><rect x="643.74" y="1222" width="1" height="9" fill="#e0e0e0"/><rect x="795.86" y="1222" width="1" height="9" fill="#e0e0e0"/><rect x="86.50" y="1209.50" width="12.68" height="4.30" fill="#d8d8d8"/><rect x="99.18" y="1209.50" width="12.68" height="4.30" fill="#d8d8d8"/><rect x="111.85" y="1209.50" width="12.68" height="4.30" fill="#d8d8d8"/><rect x="124.53" y="1209.50" width="12.68" height="4.30" fill="#d8d8d8"/><rect x="137.20" y="1209.50" width="12.68" height="4.30" fill="#d8d8d8"/><rect x="149.88" y="1209.50" width="12.68" height="4.30" fill="#d8d8d8"/><rect x="162.56" y="1209.50" width="12.68" height="4.30" fill="#d8d8d8"/><rect x="175.23" y="1209.50" width="12.68" height="4.30" fill="#d8d8d8"/><rect x="872.41" y="1209.50" width="12.68" height="4.30" fill="#d8d8d8"/><rect x="188.71" y="1204.30" width="11.08" height="9.80" fill="#b7babc" stroke="#d6d6d6" stroke-width="1.6"/><rect x="201.38" y="1204.50" width="11.08" height="9.60" fill="#b7babc" stroke="#d6d6d6" stroke-width="1.6"/><rect x="214.06" y="1204.50" width="11.08" height="9.60" fill="#b7babc" stroke="#d6d6d6" stroke-width="1.6"/><rect x="226.74" y="1204.50" width="11.08" height="9.60" fill="#b7babc" stroke="#d6d6d6" stroke-width="1.6"/><rect x="239.41" y="1204.30" width="11.08" height="9.80" fill="#b7babc" stroke="#d6d6d6" stroke-width="1.6"/><rect x="252.09" y="1196.20" width="11.08" height="17.90" fill="#b7babc" stroke="#d6d6d6" stroke-width="1.6"/><rect x="264.76" y="1194.00" width="11.08" height="20.10" fill="#b7babc" stroke="#d6d6d6" stroke-width="1.6"/><rect x="277.44" y="1178.90" width="11.08" height="35.20" fill="#b7babc" stroke="#d6d6d6" stroke-width="1.6"/><rect x="290.12" y="1185.90" width="11.08" height="28.20" fill="#b7babc" stroke="#d6d6d6" stroke-width="1.6"/><rect x="302.79" y="1178.90" width="11.08" height="35.20" fill="#b7babc" stroke="#d6d6d6" stroke-width="1.6"/><rect x="315.47" y="1170.80" width="11.08" height="43.30" fill="#b7babc" stroke="#d6d6d6" stroke-width="1.6"/><rect x="328.14" y="1156.90" width="11.08" height="57.20" fill="#b7babc" stroke="#d6d6d6" stroke-width="1.6"/><rect x="340.82" y="1141.20" width="11.08" height="72.90" fill="#b7babc" stroke="#d6d6d6" stroke-width="1.6"/><rect x="353.50" y="1128.50" width="11.08" height="85.60" fill="#b7babc" stroke="#d6d6d6" stroke-width="1.6"/><rect x="366.17" y="1124.30" width="11.08" height="89.80" fill="#b7babc" stroke="#d6d6d6" stroke-width="1.6"/><rect x="378.85" y="1123.10" width="11.08" height="91.00" fill="#b7babc" stroke="#d6d6d6" stroke-width="1.6"/><rect x="391.52" y="1135.20" width="11.08" height="78.90" fill="#b7babc" stroke="#d6d6d6" stroke-width="1.6"/><rect x="404.20" y="1155.10" width="11.08" height="59.00" fill="#b7babc" stroke="#d6d6d6" stroke-width="1.6"/><rect x="416.88" y="1168.40" width="11.08" height="45.70" fill="#b7babc" stroke="#d6d6d6" stroke-width="1.6"/><rect x="429.55" y="1171.40" width="11.08" height="42.70" fill="#b7babc" stroke="#d6d6d6" stroke-width="1.6"/><rect x="442.23" y="1163.60" width="11.08" height="50.50" fill="#b7babc" stroke="#d6d6d6" stroke-width="1.6"/><rect x="454.90" y="1166.60" width="11.08" height="47.50" fill="#b7babc" stroke="#d6d6d6" stroke-width="1.6"/><rect x="467.58" y="1172.60" width="11.08" height="41.50" fill="#b7babc" stroke="#d6d6d6" stroke-width="1.6"/><rect x="480.26" y="1175.10" width="11.08" height="39.00" fill="#b7babc" stroke="#d6d6d6" stroke-width="1.6"/><rect x="492.93" y="1181.10" width="11.08" height="33.00" fill="#b7babc" stroke="#d6d6d6" stroke-width="1.6"/><rect x="505.61" y="1169.60" width="11.08" height="44.50" fill="#b7babc" stroke="#d6d6d6" stroke-width="1.6"/><rect x="518.28" y="1161.80" width="11.08" height="52.30" fill="#b7babc" stroke="#d6d6d6" stroke-width="1.6"/><rect x="530.96" y="1161.80" width="11.08" height="52.30" fill="#b7babc" stroke="#d6d6d6" stroke-width="1.6"/><rect x="543.64" y="1153.90" width="11.08" height="60.20" fill="#b7babc" stroke="#d6d6d6" stroke-width="1.6"/><rect x="556.31" y="1153.90" width="11.08" height="60.20" fill="#b7babc" stroke="#d6d6d6" stroke-width="1.6"/><rect x="568.99" y="1144.80" width="11.08" height="69.30" fill="#b7babc" stroke="#d6d6d6" stroke-width="1.6"/><rect x="581.66" y="1143.60" width="11.08" height="70.50" fill="#b7babc" stroke="#d6d6d6" stroke-width="1.6"/><rect x="594.34" y="1121.90" width="11.08" height="92.20" fill="#b7babc" stroke="#d6d6d6" stroke-width="1.6"/><rect x="607.02" y="1117.10" width="11.08" height="97.00" fill="#b7babc" stroke="#d6d6d6" stroke-width="1.6"/><rect x="619.69" y="1083.80" width="11.08" height="130.30" fill="#b7babc" stroke="#d6d6d6" stroke-width="1.6"/><rect x="632.37" y="1104.50" width="11.08" height="109.60" fill="#b7babc" stroke="#d6d6d6" stroke-width="1.6"/><rect x="645.04" y="1072.40" width="11.08" height="141.70" fill="#b7babc" stroke="#d6d6d6" stroke-width="1.6"/><rect x="657.72" y="1066.40" width="11.08" height="147.70" fill="#b7babc" stroke="#d6d6d6" stroke-width="1.6"/><rect x="670.40" y="1050.10" width="11.08" height="164.00" fill="#b7babc" stroke="#d6d6d6" stroke-width="1.6"/><rect x="683.07" y="1086.90" width="11.08" height="127.20" fill="#b7babc" stroke="#d6d6d6" stroke-width="1.6"/><rect x="695.75" y="1061.50" width="11.08" height="152.60" fill="#b7babc" stroke="#d6d6d6" stroke-width="1.6"/><rect x="708.42" y="1018.40" width="11.08" height="195.70" fill="#b7babc" stroke="#d6d6d6" stroke-width="1.6"/><rect x="721.10" y="1045.20" width="11.08" height="168.90" fill="#b7babc" stroke="#d6d6d6" stroke-width="1.6"/><rect x="733.78" y="1067.90" width="11.08" height="146.20" fill="#b7babc" stroke="#d6d6d6" stroke-width="1.6"/><rect x="746.45" y="1094.70" width="11.08" height="119.40" fill="#b7babc" stroke="#d6d6d6" stroke-width="1.6"/><rect x="759.13" y="1114.10" width="11.08" height="100.00" fill="#b7babc" stroke="#d6d6d6" stroke-width="1.6"/><rect x="771.80" y="1126.80" width="11.08" height="87.30" fill="#b7babc" stroke="#d6d6d6" stroke-width="1.6"/><rect x="784.48" y="1134.60" width="11.08" height="79.50" fill="#b7babc" stroke="#d6d6d6" stroke-width="1.6"/><rect x="797.16" y="1137.70" width="11.08" height="76.40" fill="#b7babc" stroke="#d6d6d6" stroke-width="1.6"/><rect x="809.83" y="1139.40" width="11.08" height="74.70" fill="#b7babc" stroke="#d6d6d6" stroke-width="1.6"/><rect x="822.51" y="1147.20" width="11.08" height="66.90" fill="#b7babc" stroke="#d6d6d6" stroke-width="1.6"/><rect x="835.18" y="1155.20" width="11.08" height="58.90" fill="#b7babc" stroke="#d6d6d6" stroke-width="1.6"/><rect x="847.86" y="1153.40" width="11.08" height="60.70" fill="#b7babc" stroke="#d6d6d6" stroke-width="1.6"/><rect x="860.54" y="1156.60" width="11.08" height="57.50" fill="#b7babc" stroke="#d6d6d6" stroke-width="1.6"/><path d="M86.50,1212.90 L99.18,1118.10 L111.85,1211.10 L124.53,1213.00 L137.20,1130.20 L149.88,1164.00 L162.56,1202.00 L175.23,1191.20 L187.91,1184.00 L200.58,1174.90 L213.26,1168.80 L225.94,1167.60 L238.61,1172.00 L251.29,1185.10 L263.96,1191.20 L276.64,1192.00 L289.32,1187.80 L301.99,1178.10 L314.67,1164.60 L327.34,1154.30 L340.02,1139.20 L352.70,1128.30 L365.37,1128.30 L378.05,1134.40 L390.72,1148.90 L403.40,1162.20 L416.08,1170.00 L428.75,1179.10 L441.43,1189.40 L454.10,1193.00 L466.78,1192.40 L479.46,1194.20 L492.13,1193.60 L504.81,1193.00 L517.48,1194.80 L530.16,1195.40 L542.84,1193.00 L555.51,1188.80 L568.19,1183.90 L580.86,1179.10 L593.54,1172.40 L606.22,1164.60 L618.89,1162.00 L631.57,1153.20 L644.24,1141.40 L656.92,1140.50 L669.60,1143.20 L682.27,1135.10 L694.95,1118.80 L707.62,1126.90 L720.30,1136.90 L732.98,1141.40 L745.65,1150.50 L758.33,1165.90 L771.00,1179.50 L783.68,1178.60 L796.36,1187.70 L809.03,1192.20 L821.71,1194.80 L834.38,1194.80 L847.06,1193.90 L859.74,1193.50 L872.41,1193.50" fill="none" stroke="#b8282c" stroke-width="4.8" stroke-linejoin="round" stroke-linecap="round"/><circle cx="86.50" cy="1212.90" r="5" fill="#b8282c"/><circle cx="99.18" cy="1118.10" r="5" fill="#b8282c"/><circle cx="124.53" cy="1213.00" r="5" fill="#b8282c"/><circle cx="137.20" cy="1130.20" r="5" fill="#b8282c"/><circle cx="149.88" cy="1164.00" r="5" fill="#b8282c"/><circle cx="162.56" cy="1202.00" r="5" fill="#b8282c"/><circle cx="175.23" cy="1191.20" r="5" fill="#b8282c"/><circle cx="200.58" cy="1174.90" r="5" fill="#b8282c"/><circle cx="213.26" cy="1168.80" r="5" fill="#b8282c"/><circle cx="238.61" cy="1172.00" r="5" fill="#b8282c"/><circle cx="289.32" cy="1187.80" r="5" fill="#b8282c"/><circle cx="301.99" cy="1178.10" r="5" fill="#b8282c"/><circle cx="314.67" cy="1164.60" r="5" fill="#b8282c"/><circle cx="352.70" cy="1128.30" r="5" fill="#b8282c"/><circle cx="365.37" cy="1128.30" r="5" fill="#b8282c"/><circle cx="416.08" cy="1170.00" r="5" fill="#b8282c"/><circle cx="428.75" cy="1179.10" r="5" fill="#b8282c"/><circle cx="441.43" cy="1189.40" r="5" fill="#b8282c"/><circle cx="466.78" cy="1192.40" r="5" fill="#b8282c"/><circle cx="504.81" cy="1193.00" r="5" fill="#b8282c"/><circle cx="555.51" cy="1188.80" r="5" fill="#b8282c"/><circle cx="568.19" cy="1183.90" r="5" fill="#b8282c"/><circle cx="593.54" cy="1172.40" r="5" fill="#b8282c"/><circle cx="606.22" cy="1164.60" r="5" fill="#b8282c"/><circle cx="656.92" cy="1140.50" r="5" fill="#b8282c"/><circle cx="682.27" cy="1135.10" r="5" fill="#b8282c"/><circle cx="694.95" cy="1118.80" r="5" fill="#b8282c"/><circle cx="720.30" cy="1136.90" r="5" fill="#b8282c"/><circle cx="758.33" cy="1165.90" r="5" fill="#b8282c"/><circle cx="783.68" cy="1178.60" r="5" fill="#b8282c"/><circle cx="796.36" cy="1187.70" r="5" fill="#b8282c"/><circle cx="809.03" cy="1192.20" r="5" fill="#b8282c"/><circle cx="847.06" cy="1193.90" r="5" fill="#b8282c"/><circle cx="859.74" cy="1193.50" r="5" fill="#b8282c"/><circle cx="872.41" cy="1193.50" r="5" fill="#b8282c"/></svg>
<div class="t" style="left:50.80px;top:1201.74px;font-size:18.02px;color:#333;transform-origin:0.70px 0;transform:scaleX(1.0524)">0%</div>
<div class="t" style="left:80.79px;top:1087.74px;font-size:18.02px;color:#333;transform-origin:0.91px 0;transform:scaleX(1.0863)">25%</div>
<div class="t" style="left:137.59px;top:1101.04px;font-size:18.02px;color:#333;transform-origin:0.91px 0;transform:scaleX(1.0863)">22%</div>
<div class="t" style="left:149.83px;top:1134.74px;font-size:18.02px;color:#333;transform-origin:1.37px 0;transform:scaleX(1.0806)">13%</div>
<div class="t" style="left:160.48px;top:1161.44px;font-size:18.02px;color:#333;transform-origin:0.92px 0;transform:scaleX(1.0860)">6%</div>
<div class="t" style="left:125.10px;top:1201.94px;font-size:18.02px;color:#333;transform-origin:0.70px 0;transform:scaleX(1.0524)">0%</div>
<div class="t" style="left:162.61px;top:1201.74px;font-size:18.02px;color:#333;transform-origin:0.69px 0;transform:scaleX(1.0719)">3%</div>
<div class="t" style="left:193.93px;top:1140.24px;font-size:18.02px;color:#333;transform-origin:1.37px 0;transform:scaleX(1.1428)">11%</div>
<div class="t" style="left:199.93px;top:1186.74px;font-size:18.02px;color:#333;transform-origin:1.37px 0;transform:scaleX(1.1012)">10%</div>
<div class="t" style="left:238.33px;top:1143.24px;font-size:18.02px;color:#333;transform-origin:1.37px 0;transform:scaleX(1.1428)">11%</div>
<div class="t" style="left:261.68px;top:1201.94px;font-size:18.02px;color:#333;transform-origin:0.92px 0;transform:scaleX(1.0860)">6%</div>
<div class="t" style="left:301.06px;top:1191.04px;font-size:18.02px;color:#333;transform-origin:0.84px 0;transform:scaleX(1.1073)">9%</div>
<div class="t" style="left:305.79px;top:1120.94px;font-size:18.02px;color:#333;transform-origin:0.91px 0;transform:scaleX(1.1037)">22%</div>
<div class="t" style="left:322.33px;top:1155.94px;font-size:18.02px;color:#333;transform-origin:1.37px 0;transform:scaleX(1.0983)">13%</div>
<div class="t" style="left:345.69px;top:1099.14px;font-size:18.02px;color:#333;transform-origin:0.91px 0;transform:scaleX(1.0863)">22%</div>
<div class="t" style="left:370.03px;top:1140.24px;font-size:18.02px;color:#333;transform-origin:1.37px 0;transform:scaleX(1.1012)">17%</div>
<div class="t" style="left:400.76px;top:1191.64px;font-size:18.02px;color:#333;transform-origin:0.84px 0;transform:scaleX(1.0829)">9%</div>
<div class="t" style="left:418.03px;top:1141.44px;font-size:18.02px;color:#333;transform-origin:1.37px 0;transform:scaleX(1.1062)">11%</div>
<div class="t" style="left:442.08px;top:1201.94px;font-size:18.02px;color:#333;transform-origin:0.92px 0;transform:scaleX(1.0819)">6%</div>
<div class="t" style="left:467.58px;top:1163.84px;font-size:18.02px;color:#333;transform-origin:0.72px 0;transform:scaleX(1.0532)">5%</div>
<div class="t" style="left:491.18px;top:1201.94px;font-size:18.02px;color:#333;transform-origin:0.72px 0;transform:scaleX(1.0775)">5%</div>
<div class="t" style="left:527.28px;top:1160.84px;font-size:18.02px;color:#333;transform-origin:0.92px 0;transform:scaleX(1.0574)">6%</div>
<div class="t" style="left:555.08px;top:1196.44px;font-size:18.02px;color:#333;transform-origin:0.92px 0;transform:scaleX(1.0333)">7%</div>
<div class="t" style="left:566.63px;top:1136.64px;font-size:18.02px;color:#333;transform-origin:1.37px 0;transform:scaleX(1.1012)">12%</div>
<div class="t" style="left:593.23px;top:1184.94px;font-size:18.02px;color:#333;transform-origin:1.37px 0;transform:scaleX(1.0983)">10%</div>
<div class="t" style="left:616.83px;top:1111.64px;font-size:18.02px;color:#333;transform-origin:1.37px 0;transform:scaleX(1.1159)">19%</div>
<div class="t" style="left:675.29px;top:1089.94px;font-size:18.02px;color:#333;transform-origin:0.91px 0;transform:scaleX(1.1037)">25%</div>
<div class="t" style="left:719.69px;top:1108.04px;font-size:18.02px;color:#333;transform-origin:0.91px 0;transform:scaleX(1.1037)">20%</div>
<div class="t" style="left:681.59px;top:1147.94px;font-size:18.02px;color:#333;transform-origin:0.91px 0;transform:scaleX(1.1037)">20%</div>
<div class="t" style="left:718.33px;top:1178.44px;font-size:18.02px;color:#333;transform-origin:1.37px 0;transform:scaleX(1.0924)">12%</div>
<div class="t" style="left:768.76px;top:1149.74px;font-size:18.02px;color:#333;transform-origin:0.84px 0;transform:scaleX(1.0707)">9%</div>
<div class="t" style="left:768.68px;top:1199.64px;font-size:18.02px;color:#333;transform-origin:0.92px 0;transform:scaleX(1.0741)">7%</div>
<div class="t" style="left:808.28px;top:1164.14px;font-size:18.02px;color:#333;transform-origin:0.72px 0;transform:scaleX(1.0613)">5%</div>
<div class="t" style="left:846.28px;top:1164.14px;font-size:18.02px;color:#333;transform-origin:0.72px 0;transform:scaleX(1.0653)">5%</div>
<div class="t" style="left:833.58px;top:1201.34px;font-size:18.02px;color:#333;transform-origin:0.72px 0;transform:scaleX(1.0653)">5%</div>
<div class="t" style="left:879.78px;top:1185.54px;font-size:18.02px;color:#333;transform-origin:0.72px 0;transform:scaleX(1.0653)">5%</div>
<svg class="r" style="left:0;top:0" width="1852" height="1324"><line x1="928.0" y1="1213.3" x2="1803.0" y2="1213.3" stroke="#c8c8c8" stroke-width="1" stroke-dasharray="2,3"/><line x1="928.8" y1="1226.5" x2="1800.0" y2="1226.5" stroke="#e3e3e3" stroke-width="1.2" stroke-dasharray="1.5,11.17" stroke-dashoffset="0"/><rect x="1068.06" y="1222" width="1" height="9" fill="#e0e0e0"/><rect x="1219.74" y="1222" width="1" height="9" fill="#e0e0e0"/><rect x="1371.42" y="1222" width="1" height="9" fill="#e0e0e0"/><rect x="1523.10" y="1222" width="1" height="9" fill="#e0e0e0"/><rect x="1674.78" y="1222" width="1" height="9" fill="#e0e0e0"/><rect x="1081.20" y="1211.00" width="12.64" height="2.80" fill="#d8d8d8"/><rect x="1093.84" y="1211.00" width="12.64" height="2.80" fill="#d8d8d8"/><rect x="1106.48" y="1211.00" width="12.64" height="2.80" fill="#d8d8d8"/><rect x="1119.12" y="1209.50" width="12.64" height="4.30" fill="#d8d8d8"/><rect x="1131.76" y="1209.50" width="12.64" height="4.30" fill="#d8d8d8"/><rect x="1751.12" y="1210.00" width="12.64" height="3.80" fill="#d8d8d8"/><rect x="1145.20" y="1192.00" width="11.04" height="22.10" fill="#b7babc" stroke="#d6d6d6" stroke-width="1.6"/><rect x="1157.84" y="1193.40" width="11.04" height="20.70" fill="#b7babc" stroke="#d6d6d6" stroke-width="1.6"/><rect x="1170.48" y="1192.00" width="11.04" height="22.10" fill="#b7babc" stroke="#d6d6d6" stroke-width="1.6"/><rect x="1183.12" y="1202.80" width="11.04" height="11.30" fill="#b7babc" stroke="#d6d6d6" stroke-width="1.6"/><rect x="1195.76" y="1196.80" width="11.04" height="17.30" fill="#b7babc" stroke="#d6d6d6" stroke-width="1.6"/><rect x="1208.40" y="1201.80" width="11.04" height="12.30" fill="#b7babc" stroke="#d6d6d6" stroke-width="1.6"/><rect x="1221.04" y="1198.10" width="11.04" height="16.00" fill="#b7babc" stroke="#d6d6d6" stroke-width="1.6"/><rect x="1233.68" y="1196.10" width="11.04" height="18.00" fill="#b7babc" stroke="#d6d6d6" stroke-width="1.6"/><rect x="1246.32" y="1200.80" width="11.04" height="13.30" fill="#b7babc" stroke="#d6d6d6" stroke-width="1.6"/><rect x="1258.96" y="1201.50" width="11.04" height="12.60" fill="#b7babc" stroke="#d6d6d6" stroke-width="1.6"/><rect x="1271.60" y="1201.50" width="11.04" height="12.60" fill="#b7babc" stroke="#d6d6d6" stroke-width="1.6"/><rect x="1284.24" y="1202.80" width="11.04" height="11.30" fill="#b7babc" stroke="#d6d6d6" stroke-width="1.6"/><rect x="1296.88" y="1202.80" width="11.04" height="11.30" fill="#b7babc" stroke="#d6d6d6" stroke-width="1.6"/><rect x="1309.52" y="1204.20" width="11.04" height="9.90" fill="#b7babc" stroke="#d6d6d6" stroke-width="1.6"/><rect x="1322.16" y="1204.20" width="11.04" height="9.90" fill="#b7babc" stroke="#d6d6d6" stroke-width="1.6"/><rect x="1334.80" y="1206.30" width="11.04" height="7.80" fill="#b7babc" stroke="#d6d6d6" stroke-width="1.6"/><rect x="1347.44" y="1207.60" width="11.04" height="6.50" fill="#b7babc" stroke="#d6d6d6" stroke-width="1.6"/><rect x="1360.08" y="1207.60" width="11.04" height="6.50" fill="#b7babc" stroke="#d6d6d6" stroke-width="1.6"/><rect x="1372.72" y="1209.70" width="11.04" height="4.40" fill="#b7babc" stroke="#d6d6d6" stroke-width="1.6"/><rect x="1385.36" y="1207.00" width="11.04" height="7.10" fill="#b7babc" stroke="#d6d6d6" stroke-width="1.6"/><rect x="1398.00" y="1204.90" width="11.04" height="9.20" fill="#b7babc" stroke="#d6d6d6" stroke-width="1.6"/><rect x="1410.64" y="1206.80" width="11.04" height="7.30" fill="#b7babc" stroke="#d6d6d6" stroke-width="1.6"/><rect x="1423.28" y="1206.80" width="11.04" height="7.30" fill="#b7babc" stroke="#d6d6d6" stroke-width="1.6"/><rect x="1435.92" y="1206.80" width="11.04" height="7.30" fill="#b7babc" stroke="#d6d6d6" stroke-width="1.6"/><rect x="1448.56" y="1206.30" width="11.04" height="7.80" fill="#b7babc" stroke="#d6d6d6" stroke-width="1.6"/><rect x="1461.20" y="1206.30" width="11.04" height="7.80" fill="#b7babc" stroke="#d6d6d6" stroke-width="1.6"/><rect x="1473.84" y="1206.30" width="11.04" height="7.80" fill="#b7babc" stroke="#d6d6d6" stroke-width="1.6"/><rect x="1486.48" y="1206.30" width="11.04" height="7.80" fill="#b7babc" stroke="#d6d6d6" stroke-width="1.6"/><rect x="1499.12" y="1206.80" width="11.04" height="7.30" fill="#b7babc" stroke="#d6d6d6" stroke-width="1.6"/><rect x="1511.76" y="1207.30" width="11.04" height="6.80" fill="#b7babc" stroke="#d6d6d6" stroke-width="1.6"/><rect x="1524.40" y="1208.80" width="11.04" height="5.30" fill="#b7babc" stroke="#d6d6d6" stroke-width="1.6"/><rect x="1537.04" y="1206.80" width="11.04" height="7.30" fill="#b7babc" stroke="#d6d6d6" stroke-width="1.6"/><rect x="1549.68" y="1206.30" width="11.04" height="7.80" fill="#b7babc" stroke="#d6d6d6" stroke-width="1.6"/><rect x="1562.32" y="1206.30" width="11.04" height="7.80" fill="#b7babc" stroke="#d6d6d6" stroke-width="1.6"/><rect x="1574.96" y="1207.80" width="11.04" height="6.30" fill="#b7babc" stroke="#d6d6d6" stroke-width="1.6"/><rect x="1587.60" y="1208.80" width="11.04" height="5.30" fill="#b7babc" stroke="#d6d6d6" stroke-width="1.6"/><rect x="1600.24" y="1208.30" width="11.04" height="5.80" fill="#b7babc" stroke="#d6d6d6" stroke-width="1.6"/><rect x="1612.88" y="1207.80" width="11.04" height="6.30" fill="#b7babc" stroke="#d6d6d6" stroke-width="1.6"/><rect x="1625.52" y="1207.40" width="11.04" height="6.70" fill="#b7babc" stroke="#d6d6d6" stroke-width="1.6"/><rect x="1638.16" y="1207.40" width="11.04" height="6.70" fill="#b7babc" stroke="#d6d6d6" stroke-width="1.6"/><rect x="1650.80" y="1207.40" width="11.04" height="6.70" fill="#b7babc" stroke="#d6d6d6" stroke-width="1.6"/><rect x="1663.44" y="1207.40" width="11.04" height="6.70" fill="#b7babc" stroke="#d6d6d6" stroke-width="1.6"/><rect x="1676.08" y="1207.40" width="11.04" height="6.70" fill="#b7babc" stroke="#d6d6d6" stroke-width="1.6"/><rect x="1688.72" y="1207.40" width="11.04" height="6.70" fill="#b7babc" stroke="#d6d6d6" stroke-width="1.6"/><rect x="1701.36" y="1208.80" width="11.04" height="5.30" fill="#b7babc" stroke="#d6d6d6" stroke-width="1.6"/><rect x="1714.00" y="1208.80" width="11.04" height="5.30" fill="#b7babc" stroke="#d6d6d6" stroke-width="1.6"/><rect x="1726.64" y="1208.80" width="11.04" height="5.30" fill="#b7babc" stroke="#d6d6d6" stroke-width="1.6"/><rect x="1739.28" y="1208.30" width="11.04" height="5.80" fill="#b7babc" stroke="#d6d6d6" stroke-width="1.6"/><path d="M1081.20,1212.30 L1093.84,1149.10 L1106.48,1115.10 L1119.12,1192.60 L1131.76,1198.70 L1144.40,1200.70 L1157.04,1200.70 L1169.68,1202.80 L1182.32,1200.00 L1194.96,1198.70 L1207.60,1199.40 L1220.24,1198.00 L1232.88,1191.20 L1245.52,1183.70 L1258.16,1179.00 L1270.80,1165.40 L1283.44,1162.70 L1296.08,1162.00 L1308.72,1160.60 L1321.36,1160.60 L1334.00,1162.00 L1346.64,1164.70 L1359.28,1165.40 L1371.92,1174.90 L1384.56,1171.50 L1397.20,1179.00 L1409.84,1172.20 L1422.48,1175.60 L1435.12,1178.30 L1447.76,1177.60 L1460.40,1180.30 L1473.04,1176.90 L1485.68,1173.50 L1498.32,1165.40 L1510.96,1164.00 L1523.60,1155.20 L1536.24,1141.60 L1548.88,1136.10 L1561.52,1132.10 L1574.16,1117.10 L1586.80,1101.50 L1599.44,1083.40 L1612.08,1070.70 L1624.72,1058.90 L1637.36,1053.50 L1650.00,1046.20 L1662.64,1050.80 L1675.28,1038.10 L1687.92,1039.90 L1700.56,1037.20 L1713.20,1027.20 L1725.84,1037.20 L1738.48,1019.90 L1751.12,1080.70" fill="none" stroke="#b8282c" stroke-width="4.8" stroke-linejoin="round" stroke-linecap="round"/><circle cx="1081.20" cy="1212.30" r="5" fill="#b8282c"/><circle cx="1093.84" cy="1149.10" r="5" fill="#b8282c"/><circle cx="1106.48" cy="1115.10" r="5" fill="#b8282c"/><circle cx="1119.12" cy="1192.60" r="5" fill="#b8282c"/><circle cx="1131.76" cy="1198.70" r="5" fill="#b8282c"/><circle cx="1144.40" cy="1200.70" r="5" fill="#b8282c"/><circle cx="1169.68" cy="1202.80" r="5" fill="#b8282c"/><circle cx="1182.32" cy="1200.00" r="5" fill="#b8282c"/><circle cx="1220.24" cy="1198.00" r="5" fill="#b8282c"/><circle cx="1232.88" cy="1191.20" r="5" fill="#b8282c"/><circle cx="1258.16" cy="1179.00" r="5" fill="#b8282c"/><circle cx="1283.44" cy="1162.70" r="5" fill="#b8282c"/><circle cx="1308.72" cy="1160.60" r="5" fill="#b8282c"/><circle cx="1321.36" cy="1160.60" r="5" fill="#b8282c"/><circle cx="1334.00" cy="1162.00" r="5" fill="#b8282c"/><circle cx="1384.56" cy="1171.50" r="5" fill="#b8282c"/><circle cx="1409.84" cy="1172.20" r="5" fill="#b8282c"/><circle cx="1460.40" cy="1180.30" r="5" fill="#b8282c"/><circle cx="1473.04" cy="1176.90" r="5" fill="#b8282c"/><circle cx="1485.68" cy="1173.50" r="5" fill="#b8282c"/><circle cx="1510.96" cy="1164.00" r="5" fill="#b8282c"/><circle cx="1536.24" cy="1141.60" r="5" fill="#b8282c"/><circle cx="1548.88" cy="1136.10" r="5" fill="#b8282c"/><circle cx="1574.16" cy="1117.10" r="5" fill="#b8282c"/><circle cx="1586.80" cy="1101.50" r="5" fill="#b8282c"/><circle cx="1624.72" cy="1058.90" r="5" fill="#b8282c"/><circle cx="1637.36" cy="1053.50" r="5" fill="#b8282c"/><circle cx="1675.28" cy="1038.10" r="5" fill="#b8282c"/><circle cx="1700.56" cy="1037.20" r="5" fill="#b8282c"/><circle cx="1738.48" cy="1019.90" r="5" fill="#b8282c"/><circle cx="1751.12" cy="1080.70" r="5" fill="#b8282c"/></svg>
<div class="t" style="left:1045.10px;top:1201.74px;font-size:18.02px;color:#333;transform-origin:0.70px 0;transform:scaleX(1.0727)">0%</div>
<div class="t" style="left:1046.53px;top:1141.94px;font-size:18.02px;color:#333;transform-origin:1.37px 0;transform:scaleX(1.0983)">17%</div>
<div class="t" style="left:1087.79px;top:1085.54px;font-size:18.02px;color:#333;transform-origin:0.91px 0;transform:scaleX(1.1008)">26%</div>
<div class="t" style="left:1091.28px;top:1201.74px;font-size:18.02px;color:#333;transform-origin:0.72px 0;transform:scaleX(1.0491)">5%</div>
<div class="t" style="left:1118.19px;top:1169.84px;font-size:18.02px;color:#333;transform-origin:0.41px 0;transform:scaleX(1.0602)">4%</div>
<div class="t" style="left:1130.81px;top:1201.74px;font-size:18.02px;color:#333;transform-origin:0.69px 0;transform:scaleX(1.0436)">3%</div>
<div class="t" style="left:1155.69px;top:1174.54px;font-size:18.02px;color:#333;transform-origin:0.91px 0;transform:scaleX(1.0570)">2%</div>
<div class="t" style="left:1168.91px;top:1201.74px;font-size:18.02px;color:#333;transform-origin:0.69px 0;transform:scaleX(1.0436)">3%</div>
<div class="t" style="left:1205.89px;top:1201.74px;font-size:18.02px;color:#333;transform-origin:0.41px 0;transform:scaleX(1.0282)">4%</div>
<div class="t" style="left:1204.88px;top:1161.64px;font-size:18.02px;color:#333;transform-origin:0.72px 0;transform:scaleX(1.0491)">5%</div>
<div class="t" style="left:1244.03px;top:1135.14px;font-size:18.02px;color:#333;transform-origin:1.37px 0;transform:scaleX(1.0953)">13%</div>
<div class="t" style="left:1258.76px;top:1191.54px;font-size:18.02px;color:#333;transform-origin:0.84px 0;transform:scaleX(1.0544)">9%</div>
<div class="t" style="left:1289.53px;top:1131.74px;font-size:18.02px;color:#333;transform-origin:1.37px 0;transform:scaleX(1.0983)">14%</div>
<div class="t" style="left:1302.43px;top:1172.54px;font-size:18.02px;color:#333;transform-origin:1.37px 0;transform:scaleX(1.0983)">14%</div>
<div class="t" style="left:1333.73px;top:1133.84px;font-size:18.02px;color:#333;transform-origin:1.37px 0;transform:scaleX(1.0983)">13%</div>
<div class="t" style="left:1384.63px;top:1142.64px;font-size:18.02px;color:#333;transform-origin:1.37px 0;transform:scaleX(1.1428)">11%</div>
<div class="t" style="left:1390.63px;top:1185.44px;font-size:18.02px;color:#333;transform-origin:1.37px 0;transform:scaleX(1.1012)">10%</div>
<div class="t" style="left:1433.86px;top:1191.54px;font-size:18.02px;color:#333;transform-origin:0.84px 0;transform:scaleX(1.0503)">9%</div>
<div class="t" style="left:1459.66px;top:1188.84px;font-size:18.02px;color:#333;transform-origin:0.84px 0;transform:scaleX(1.0788)">9%</div>
<div class="t" style="left:1445.53px;top:1145.34px;font-size:18.02px;color:#333;transform-origin:1.37px 0;transform:scaleX(1.1188)">10%</div>
<div class="t" style="left:1496.53px;top:1112.74px;font-size:18.02px;color:#333;transform-origin:1.37px 0;transform:scaleX(1.0983)">19%</div>
<div class="t" style="left:1510.83px;top:1177.94px;font-size:18.02px;color:#333;transform-origin:1.37px 0;transform:scaleX(1.0983)">13%</div>
<div class="t" style="left:1549.99px;top:1150.14px;font-size:18.02px;color:#333;transform-origin:0.91px 0;transform:scaleX(1.1037)">20%</div>
<div class="t" style="left:1547.29px;top:1071.94px;font-size:18.02px;color:#333;transform-origin:0.91px 0;transform:scaleX(1.0834)">29%</div>
<div class="t" style="left:1581.99px;top:1108.04px;font-size:18.02px;color:#333;transform-origin:0.91px 0;transform:scaleX(1.0979)">25%</div>
<div class="t" style="left:1586.79px;top:1029.94px;font-size:18.02px;color:#333;transform-origin:0.41px 0;transform:scaleX(1.0996)">40%</div>
<div class="t" style="left:1637.59px;top:1016.44px;font-size:18.02px;color:#333;transform-origin:0.41px 0;transform:scaleX(1.0882)">46%</div>
<div class="t" style="left:1639.39px;top:1065.44px;font-size:18.02px;color:#333;transform-origin:0.41px 0;transform:scaleX(1.0882)">42%</div>
<div class="t" style="left:1681.99px;top:1049.04px;font-size:18.02px;color:#333;transform-origin:0.41px 0;transform:scaleX(1.0882)">46%</div>
<div class="t" style="left:1746.08px;top:1016.44px;font-size:18.02px;color:#333;transform-origin:0.72px 0;transform:scaleX(1.0978)">51%</div>
<div class="t" style="left:1732.51px;top:1093.54px;font-size:18.02px;color:#333;transform-origin:0.69px 0;transform:scaleX(1.0967)">35%</div>
<div class="t" style="left:132.81px;top:1241.17px;font-size:18.70px;color:#6f7780">20</div><svg class="r" style="left:153.61px;top:1240.40px" width="19.40" height="19.40" viewBox="0 0 20 20"><path d="M4.5,0.5 L1.5,6.5 M3.5,3.5 H19.5 M4,9 H18 M4,9 V13.5 M0.5,13.5 H19.5 M11,3.5 V20" stroke="#6f7780" stroke-width="1.5" fill="none"/></svg><div class="t" style="left:173.01px;top:1241.17px;font-size:18.70px;color:#6f7780">3</div><svg class="r" style="left:183.41px;top:1240.40px" width="19.40" height="19.40" viewBox="0 0 20 20"><path d="M5,1 V12 Q5,17.5 1.5,20 M5,1 H16 M16,1 V18.5 Q16,20 14,20 H12 M5,7 H16 M5,12.5 H16" stroke="#6f7780" stroke-width="1.5" fill="none"/></svg><div class="t" style="left:202.81px;top:1241.17px;font-size:18.70px;color:#6f7780">22</div><svg class="r" style="left:223.61px;top:1240.40px" width="19.40" height="19.40" viewBox="0 0 20 20"><path d="M4,1.5 H16.5 V19.5 M4,1.5 V19.5 M4,19 H16.5 M4,10 H16.5" stroke="#6f7780" stroke-width="1.5" fill="none"/></svg>
<div class="t" style="left:1013.46px;top:1241.17px;font-size:18.70px;color:#6f7780">20</div><svg class="r" style="left:1034.26px;top:1240.40px" width="19.40" height="19.40" viewBox="0 0 20 20"><path d="M4.5,0.5 L1.5,6.5 M3.5,3.5 H19.5 M4,9 H18 M4,9 V13.5 M0.5,13.5 H19.5 M11,3.5 V20" stroke="#6f7780" stroke-width="1.5" fill="none"/></svg><div class="t" style="left:1053.66px;top:1241.17px;font-size:18.70px;color:#6f7780">3</div><svg class="r" style="left:1064.06px;top:1240.40px" width="19.40" height="19.40" viewBox="0 0 20 20"><path d="M5,1 V12 Q5,17.5 1.5,20 M5,1 H16 M16,1 V18.5 Q16,20 14,20 H12 M5,7 H16 M5,12.5 H16" stroke="#6f7780" stroke-width="1.5" fill="none"/></svg><div class="t" style="left:1083.46px;top:1241.17px;font-size:18.70px;color:#6f7780">22</div><svg class="r" style="left:1104.26px;top:1240.40px" width="19.40" height="19.40" viewBox="0 0 20 20"><path d="M4,1.5 H16.5 V19.5 M4,1.5 V19.5 M4,19 H16.5 M4,10 H16.5" stroke="#6f7780" stroke-width="1.5" fill="none"/></svg>
<div class="t" style="left:284.92px;top:1241.17px;font-size:18.70px;color:#6f7780">20</div><svg class="r" style="left:305.72px;top:1240.40px" width="19.40" height="19.40" viewBox="0 0 20 20"><path d="M4.5,0.5 L1.5,6.5 M3.5,3.5 H19.5 M4,9 H18 M4,9 V13.5 M0.5,13.5 H19.5 M11,3.5 V20" stroke="#6f7780" stroke-width="1.5" fill="none"/></svg><div class="t" style="left:325.12px;top:1241.17px;font-size:18.70px;color:#6f7780">6</div><svg class="r" style="left:335.52px;top:1240.40px" width="19.40" height="19.40" viewBox="0 0 20 20"><path d="M5,1 V12 Q5,17.5 1.5,20 M5,1 H16 M16,1 V18.5 Q16,20 14,20 H12 M5,7 H16 M5,12.5 H16" stroke="#6f7780" stroke-width="1.5" fill="none"/></svg><div class="t" style="left:354.92px;top:1241.17px;font-size:18.70px;color:#6f7780">14</div><svg class="r" style="left:375.72px;top:1240.40px" width="19.40" height="19.40" viewBox="0 0 20 20"><path d="M4,1.5 H16.5 V19.5 M4,1.5 V19.5 M4,19 H16.5 M4,10 H16.5" stroke="#6f7780" stroke-width="1.5" fill="none"/></svg>
<div class="t" style="left:1165.14px;top:1241.17px;font-size:18.70px;color:#6f7780">20</div><svg class="r" style="left:1185.94px;top:1240.40px" width="19.40" height="19.40" viewBox="0 0 20 20"><path d="M4.5,0.5 L1.5,6.5 M3.5,3.5 H19.5 M4,9 H18 M4,9 V13.5 M0.5,13.5 H19.5 M11,3.5 V20" stroke="#6f7780" stroke-width="1.5" fill="none"/></svg><div class="t" style="left:1205.34px;top:1241.17px;font-size:18.70px;color:#6f7780">6</div><svg class="r" style="left:1215.74px;top:1240.40px" width="19.40" height="19.40" viewBox="0 0 20 20"><path d="M5,1 V12 Q5,17.5 1.5,20 M5,1 H16 M16,1 V18.5 Q16,20 14,20 H12 M5,7 H16 M5,12.5 H16" stroke="#6f7780" stroke-width="1.5" fill="none"/></svg><div class="t" style="left:1235.14px;top:1241.17px;font-size:18.70px;color:#6f7780">14</div><svg class="r" style="left:1255.94px;top:1240.40px" width="19.40" height="19.40" viewBox="0 0 20 20"><path d="M4,1.5 H16.5 V19.5 M4,1.5 V19.5 M4,19 H16.5 M4,10 H16.5" stroke="#6f7780" stroke-width="1.5" fill="none"/></svg>
<div class="t" style="left:442.23px;top:1241.17px;font-size:18.70px;color:#6f7780">20</div><svg class="r" style="left:463.03px;top:1240.40px" width="19.40" height="19.40" viewBox="0 0 20 20"><path d="M4.5,0.5 L1.5,6.5 M3.5,3.5 H19.5 M4,9 H18 M4,9 V13.5 M0.5,13.5 H19.5 M11,3.5 V20" stroke="#6f7780" stroke-width="1.5" fill="none"/></svg><div class="t" style="left:482.43px;top:1241.17px;font-size:18.70px;color:#6f7780">9</div><svg class="r" style="left:492.83px;top:1240.40px" width="19.40" height="19.40" viewBox="0 0 20 20"><path d="M5,1 V12 Q5,17.5 1.5,20 M5,1 H16 M16,1 V18.5 Q16,20 14,20 H12 M5,7 H16 M5,12.5 H16" stroke="#6f7780" stroke-width="1.5" fill="none"/></svg><div class="t" style="left:512.23px;top:1241.17px;font-size:18.70px;color:#6f7780">6</div><svg class="r" style="left:522.63px;top:1240.40px" width="19.40" height="19.40" viewBox="0 0 20 20"><path d="M4,1.5 H16.5 V19.5 M4,1.5 V19.5 M4,19 H16.5 M4,10 H16.5" stroke="#6f7780" stroke-width="1.5" fill="none"/></svg>
<div class="t" style="left:1322.02px;top:1241.17px;font-size:18.70px;color:#6f7780">20</div><svg class="r" style="left:1342.82px;top:1240.40px" width="19.40" height="19.40" viewBox="0 0 20 20"><path d="M4.5,0.5 L1.5,6.5 M3.5,3.5 H19.5 M4,9 H18 M4,9 V13.5 M0.5,13.5 H19.5 M11,3.5 V20" stroke="#6f7780" stroke-width="1.5" fill="none"/></svg><div class="t" style="left:1362.22px;top:1241.17px;font-size:18.70px;color:#6f7780">9</div><svg class="r" style="left:1372.62px;top:1240.40px" width="19.40" height="19.40" viewBox="0 0 20 20"><path d="M5,1 V12 Q5,17.5 1.5,20 M5,1 H16 M16,1 V18.5 Q16,20 14,20 H12 M5,7 H16 M5,12.5 H16" stroke="#6f7780" stroke-width="1.5" fill="none"/></svg><div class="t" style="left:1392.02px;top:1241.17px;font-size:18.70px;color:#6f7780">6</div><svg class="r" style="left:1402.42px;top:1240.40px" width="19.40" height="19.40" viewBox="0 0 20 20"><path d="M4,1.5 H16.5 V19.5 M4,1.5 V19.5 M4,19 H16.5 M4,10 H16.5" stroke="#6f7780" stroke-width="1.5" fill="none"/></svg>
<div class="t" style="left:584.64px;top:1241.17px;font-size:18.70px;color:#6f7780">20</div><svg class="r" style="left:605.44px;top:1240.40px" width="19.40" height="19.40" viewBox="0 0 20 20"><path d="M4.5,0.5 L1.5,6.5 M3.5,3.5 H19.5 M4,9 H18 M4,9 V13.5 M0.5,13.5 H19.5 M11,3.5 V20" stroke="#6f7780" stroke-width="1.5" fill="none"/></svg><div class="t" style="left:624.84px;top:1241.17px;font-size:18.70px;color:#6f7780">11</div><svg class="r" style="left:644.25px;top:1240.40px" width="19.40" height="19.40" viewBox="0 0 20 20"><path d="M5,1 V12 Q5,17.5 1.5,20 M5,1 H16 M16,1 V18.5 Q16,20 14,20 H12 M5,7 H16 M5,12.5 H16" stroke="#6f7780" stroke-width="1.5" fill="none"/></svg><div class="t" style="left:663.65px;top:1241.17px;font-size:18.70px;color:#6f7780">29</div><svg class="r" style="left:684.45px;top:1240.40px" width="19.40" height="19.40" viewBox="0 0 20 20"><path d="M4,1.5 H16.5 V19.5 M4,1.5 V19.5 M4,19 H16.5 M4,10 H16.5" stroke="#6f7780" stroke-width="1.5" fill="none"/></svg>
<div class="t" style="left:1463.99px;top:1241.17px;font-size:18.70px;color:#6f7780">20</div><svg class="r" style="left:1484.79px;top:1240.40px" width="19.40" height="19.40" viewBox="0 0 20 20"><path d="M4.5,0.5 L1.5,6.5 M3.5,3.5 H19.5 M4,9 H18 M4,9 V13.5 M0.5,13.5 H19.5 M11,3.5 V20" stroke="#6f7780" stroke-width="1.5" fill="none"/></svg><div class="t" style="left:1504.19px;top:1241.17px;font-size:18.70px;color:#6f7780">11</div><svg class="r" style="left:1523.61px;top:1240.40px" width="19.40" height="19.40" viewBox="0 0 20 20"><path d="M5,1 V12 Q5,17.5 1.5,20 M5,1 H16 M16,1 V18.5 Q16,20 14,20 H12 M5,7 H16 M5,12.5 H16" stroke="#6f7780" stroke-width="1.5" fill="none"/></svg><div class="t" style="left:1543.01px;top:1241.17px;font-size:18.70px;color:#6f7780">29</div><svg class="r" style="left:1563.81px;top:1240.40px" width="19.40" height="19.40" viewBox="0 0 20 20"><path d="M4,1.5 H16.5 V19.5 M4,1.5 V19.5 M4,19 H16.5 M4,10 H16.5" stroke="#6f7780" stroke-width="1.5" fill="none"/></svg>
<div class="t" style="left:741.26px;top:1241.17px;font-size:18.70px;color:#6f7780">21</div><svg class="r" style="left:762.06px;top:1240.40px" width="19.40" height="19.40" viewBox="0 0 20 20"><path d="M4.5,0.5 L1.5,6.5 M3.5,3.5 H19.5 M4,9 H18 M4,9 V13.5 M0.5,13.5 H19.5 M11,3.5 V20" stroke="#6f7780" stroke-width="1.5" fill="none"/></svg><div class="t" style="left:781.46px;top:1241.17px;font-size:18.70px;color:#6f7780">2</div><svg class="r" style="left:791.86px;top:1240.40px" width="19.40" height="19.40" viewBox="0 0 20 20"><path d="M5,1 V12 Q5,17.5 1.5,20 M5,1 H16 M16,1 V18.5 Q16,20 14,20 H12 M5,7 H16 M5,12.5 H16" stroke="#6f7780" stroke-width="1.5" fill="none"/></svg><div class="t" style="left:811.26px;top:1241.17px;font-size:18.70px;color:#6f7780">21</div><svg class="r" style="left:832.06px;top:1240.40px" width="19.40" height="19.40" viewBox="0 0 20 20"><path d="M4,1.5 H16.5 V19.5 M4,1.5 V19.5 M4,19 H16.5 M4,10 H16.5" stroke="#6f7780" stroke-width="1.5" fill="none"/></svg>
<div class="t" style="left:1620.18px;top:1241.17px;font-size:18.70px;color:#6f7780">21</div><svg class="r" style="left:1640.98px;top:1240.40px" width="19.40" height="19.40" viewBox="0 0 20 20"><path d="M4.5,0.5 L1.5,6.5 M3.5,3.5 H19.5 M4,9 H18 M4,9 V13.5 M0.5,13.5 H19.5 M11,3.5 V20" stroke="#6f7780" stroke-width="1.5" fill="none"/></svg><div class="t" style="left:1660.38px;top:1241.17px;font-size:18.70px;color:#6f7780">2</div><svg class="r" style="left:1670.78px;top:1240.40px" width="19.40" height="19.40" viewBox="0 0 20 20"><path d="M5,1 V12 Q5,17.5 1.5,20 M5,1 H16 M16,1 V18.5 Q16,20 14,20 H12 M5,7 H16 M5,12.5 H16" stroke="#6f7780" stroke-width="1.5" fill="none"/></svg><div class="t" style="left:1690.18px;top:1241.17px;font-size:18.70px;color:#6f7780">21</div><svg class="r" style="left:1710.98px;top:1240.40px" width="19.40" height="19.40" viewBox="0 0 20 20"><path d="M4,1.5 H16.5 V19.5 M4,1.5 V19.5 M4,19 H16.5 M4,10 H16.5" stroke="#6f7780" stroke-width="1.5" fill="none"/></svg>
<div class="t" style="left:43.35px;top:1287.50px;font-size:18.90px;color:#111;letter-spacing:0.679px;word-spacing:-0.57px">Date Updated:</div>
<div class="t" style="left:299.75px;top:1280.00px;font-size:18.90px;color:#555;letter-spacing:1.179px">2021/4/6</div>
<div class="t" style="left:818.70px;top:1286.50px;font-size:18.90px;color:#777;letter-spacing:0.552px;word-spacing:-0.57px">*NOTE: Results from the last 4-7 days may not be reported yet.</div>
</body></html>
